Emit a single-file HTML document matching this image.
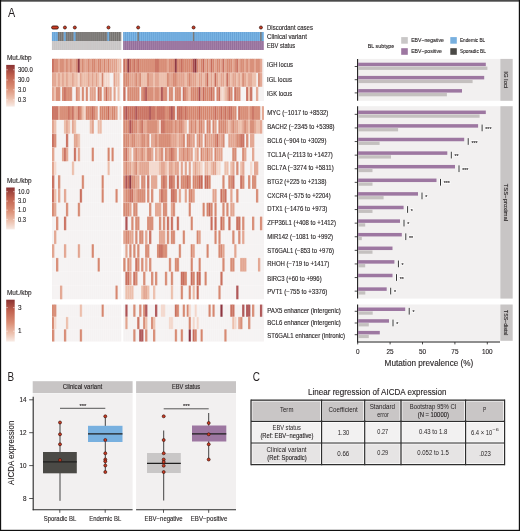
<!DOCTYPE html>
<html><head><meta charset="utf-8"><style>
html,body{margin:0;padding:0;background:#fff;}
body{width:520px;height:531px;overflow:hidden;}
svg{display:block;font-family:"Liberation Sans", sans-serif;will-change:transform;}
text{stroke:#231f20;stroke-width:0.12px;}
text.n{stroke:none;}
</style></head><body>
<svg width="520" height="531" viewBox="0 0 520 531">
<defs><linearGradient id="lg" x1="0" y1="0" x2="0" y2="1">
<stop offset="0" stop-color="#8a3232"/><stop offset="0.25" stop-color="#bf5f4d"/><stop offset="0.55" stop-color="#da8d74"/><stop offset="0.8" stop-color="#ecc0ad"/><stop offset="1" stop-color="#f8ebe5"/>
</linearGradient></defs>
<rect x="0" y="0" width="520" height="531" fill="#fff"/>
<rect x="52.05" y="32" width="69.3" height="9" fill="#93918f"/><rect x="123.3" y="32" width="140.58" height="9" fill="#7db6e5"/><rect x="52.05" y="41" width="69.3" height="9" fill="#d0cdcd"/><rect x="123.3" y="41" width="140.58" height="9" fill="#a683aa"/><rect x="52.05" y="32" width="1.98" height="9" fill="#7db6e5"/><rect x="54.03" y="32" width="1.98" height="9" fill="#7db6e5"/><rect x="56.01" y="32" width="1.98" height="9" fill="#7db6e5"/><rect x="63.93" y="32" width="1.98" height="9" fill="#7db6e5"/><rect x="73.83" y="32" width="1.98" height="9" fill="#7db6e5"/><rect x="107.49" y="32" width="1.98" height="9" fill="#7db6e5"/><rect x="137.36" y="32" width="1.58" height="9" fill="#7c7a77"/><rect x="192.8" y="32" width="1.58" height="9" fill="#7c7a77"/><rect x="260.12" y="32" width="1.58" height="9" fill="#7c7a77"/><path d="M58.29 32V41 M60.27 32V41 M62.25 32V41 M66.21 32V41 M68.19 32V41 M70.17 32V41 M72.15 32V41 M76.11 32V41 M78.09 32V41 M80.07 32V41 M82.05 32V41 M84.03 32V41 M86.01 32V41 M87.99 32V41 M89.97 32V41 M91.95 32V41 M93.93 32V41 M95.91 32V41 M97.89 32V41 M99.87 32V41 M101.85 32V41 M103.83 32V41 M105.81 32V41 M109.77 32V41 M111.75 32V41 M113.73 32V41 M115.71 32V41 M117.69 32V41 M119.67 32V41" stroke="#55534f" stroke-width="0.6"/><path d="M52.35 41V50 M54.33 41V50 M56.31 41V50 M58.29 41V50 M60.27 41V50 M62.25 41V50 M64.23 41V50 M66.21 41V50 M68.19 41V50 M70.17 41V50 M72.15 41V50 M74.13 41V50 M76.11 41V50 M78.09 41V50 M80.07 41V50 M82.05 41V50 M84.03 41V50 M86.01 41V50 M87.99 41V50 M89.97 41V50 M91.95 41V50 M93.93 41V50 M95.91 41V50 M97.89 41V50 M99.87 41V50 M101.85 41V50 M103.83 41V50 M105.81 41V50 M107.79 41V50 M109.77 41V50 M111.75 41V50 M113.73 41V50 M115.71 41V50 M117.69 41V50 M119.67 41V50" stroke="#bdbaba" stroke-width="0.5"/><path d="M123.6 32V41 M125.58 32V41 M127.56 32V41 M129.54 32V41 M131.52 32V41 M133.5 32V41 M135.48 32V41 M139.44 32V41 M141.42 32V41 M143.4 32V41 M145.38 32V41 M147.36 32V41 M149.34 32V41 M151.32 32V41 M153.3 32V41 M155.28 32V41 M157.26 32V41 M159.24 32V41 M161.22 32V41 M163.2 32V41 M165.18 32V41 M167.16 32V41 M169.14 32V41 M171.12 32V41 M173.1 32V41 M175.08 32V41 M177.06 32V41 M179.04 32V41 M181.02 32V41 M183 32V41 M184.98 32V41 M186.96 32V41 M188.94 32V41 M190.92 32V41 M194.88 32V41 M196.86 32V41 M198.84 32V41 M200.82 32V41 M202.8 32V41 M204.78 32V41 M206.76 32V41 M208.74 32V41 M210.72 32V41 M212.7 32V41 M214.68 32V41 M216.66 32V41 M218.64 32V41 M220.62 32V41 M222.6 32V41 M224.58 32V41 M226.56 32V41 M228.54 32V41 M230.52 32V41 M232.5 32V41 M234.48 32V41 M236.46 32V41 M238.44 32V41 M240.42 32V41 M242.4 32V41 M244.38 32V41 M246.36 32V41 M248.34 32V41 M250.32 32V41 M252.3 32V41 M254.28 32V41 M256.26 32V41 M258.24 32V41 M262.2 32V41 M52.35 32V41 M54.33 32V41 M56.31 32V41 M64.23 32V41 M74.13 32V41 M107.79 32V41" stroke="#5b97cc" stroke-width="0.6"/><path d="M123.6 41V50 M125.58 41V50 M127.56 41V50 M129.54 41V50 M131.52 41V50 M133.5 41V50 M135.48 41V50 M137.46 41V50 M139.44 41V50 M141.42 41V50 M143.4 41V50 M145.38 41V50 M147.36 41V50 M149.34 41V50 M151.32 41V50 M153.3 41V50 M155.28 41V50 M157.26 41V50 M159.24 41V50 M161.22 41V50 M163.2 41V50 M165.18 41V50 M167.16 41V50 M169.14 41V50 M171.12 41V50 M173.1 41V50 M175.08 41V50 M177.06 41V50 M179.04 41V50 M181.02 41V50 M183 41V50 M184.98 41V50 M186.96 41V50 M188.94 41V50 M190.92 41V50 M192.9 41V50 M194.88 41V50 M196.86 41V50 M198.84 41V50 M200.82 41V50 M202.8 41V50 M204.78 41V50 M206.76 41V50 M208.74 41V50 M210.72 41V50 M212.7 41V50 M214.68 41V50 M216.66 41V50 M218.64 41V50 M220.62 41V50 M222.6 41V50 M224.58 41V50 M226.56 41V50 M228.54 41V50 M230.52 41V50 M232.5 41V50 M234.48 41V50 M236.46 41V50 M238.44 41V50 M240.42 41V50 M242.4 41V50 M244.38 41V50 M246.36 41V50 M248.34 41V50 M250.32 41V50 M252.3 41V50 M254.28 41V50 M256.26 41V50 M258.24 41V50 M260.22 41V50 M262.2 41V50" stroke="#886190" stroke-width="0.6"/><circle cx="64.92" cy="27.5" r="1.5" fill="#cf3b22" stroke="#3f1710" stroke-width="0.8"/><circle cx="74.82" cy="27.5" r="1.5" fill="#cf3b22" stroke="#3f1710" stroke-width="0.8"/><circle cx="108.48" cy="27.5" r="1.5" fill="#cf3b22" stroke="#3f1710" stroke-width="0.8"/><circle cx="138.15" cy="27.5" r="1.5" fill="#cf3b22" stroke="#3f1710" stroke-width="0.8"/><circle cx="193.59" cy="27.5" r="1.5" fill="#cf3b22" stroke="#3f1710" stroke-width="0.8"/><circle cx="260.91" cy="27.5" r="1.5" fill="#cf3b22" stroke="#3f1710" stroke-width="0.8"/><rect x="51.6" y="26.0" width="6.79" height="3.0" rx="1.5" fill="#cf3b22" stroke="#3f1710" stroke-width="0.9"/><rect x="52.05" y="58.8" width="69.3" height="42.15" fill="#f5f2f2"/><rect x="123.3" y="58.8" width="140.58" height="42.15" fill="#f5f2f2"/><rect x="52.05" y="58.8" width="2.33" height="14.05" fill="#c76a58"/><rect x="54.03" y="58.8" width="2.33" height="14.05" fill="#d5856d"/><rect x="56.01" y="58.8" width="2.33" height="14.05" fill="#d5856d"/><rect x="57.99" y="58.8" width="2.33" height="14.05" fill="#e1a08a"/><rect x="59.97" y="58.8" width="2.33" height="14.05" fill="#d5856d"/><rect x="61.95" y="58.8" width="2.33" height="14.05" fill="#d5856d"/><rect x="63.93" y="58.8" width="2.33" height="14.05" fill="#e1a08a"/><rect x="65.91" y="58.8" width="2.33" height="14.05" fill="#d5856d"/><rect x="67.89" y="58.8" width="2.33" height="14.05" fill="#e1a08a"/><rect x="69.87" y="58.8" width="2.33" height="14.05" fill="#d5856d"/><rect x="71.85" y="58.8" width="2.33" height="14.05" fill="#e1a08a"/><rect x="73.83" y="58.8" width="2.33" height="14.05" fill="#e1a08a"/><rect x="75.81" y="58.8" width="2.33" height="14.05" fill="#d5856d"/><rect x="77.79" y="58.8" width="2.33" height="14.05" fill="#8a2f3a"/><rect x="79.77" y="58.8" width="2.33" height="14.05" fill="#e1a08a"/><rect x="81.75" y="58.8" width="2.33" height="14.05" fill="#d5856d"/><rect x="83.73" y="58.8" width="2.33" height="14.05" fill="#e1a08a"/><rect x="85.71" y="58.8" width="2.33" height="14.05" fill="#e1a08a"/><rect x="87.69" y="58.8" width="2.33" height="14.05" fill="#d5856d"/><rect x="89.67" y="58.8" width="2.33" height="14.05" fill="#e1a08a"/><rect x="91.65" y="58.8" width="2.33" height="14.05" fill="#d5856d"/><rect x="93.63" y="58.8" width="2.33" height="14.05" fill="#d5856d"/><rect x="95.61" y="58.8" width="2.33" height="14.05" fill="#e1a08a"/><rect x="97.59" y="58.8" width="2.33" height="14.05" fill="#d5856d"/><rect x="99.57" y="58.8" width="2.33" height="14.05" fill="#d5856d"/><rect x="101.55" y="58.8" width="2.33" height="14.05" fill="#e1a08a"/><rect x="103.53" y="58.8" width="2.33" height="14.05" fill="#d5856d"/><rect x="105.51" y="58.8" width="2.33" height="14.05" fill="#e1a08a"/><rect x="107.49" y="58.8" width="2.33" height="14.05" fill="#d5856d"/><rect x="109.47" y="58.8" width="2.33" height="14.05" fill="#e1a08a"/><rect x="111.45" y="58.8" width="2.33" height="14.05" fill="#e1a08a"/><rect x="113.43" y="58.8" width="2.33" height="14.05" fill="#e1a08a"/><rect x="115.41" y="58.8" width="2.33" height="14.05" fill="#e1a08a"/><rect x="117.39" y="58.8" width="2.33" height="14.05" fill="#ebbba7"/><rect x="119.37" y="58.8" width="1.98" height="14.05" fill="#ebbba7"/><rect x="123.3" y="58.8" width="2.33" height="14.05" fill="#c76a58"/><rect x="125.28" y="58.8" width="2.33" height="14.05" fill="#d5856d"/><rect x="127.26" y="58.8" width="2.33" height="14.05" fill="#8a2f3a"/><rect x="129.24" y="58.8" width="2.33" height="14.05" fill="#c76a58"/><rect x="131.22" y="58.8" width="2.33" height="14.05" fill="#d5856d"/><rect x="133.2" y="58.8" width="2.33" height="14.05" fill="#c76a58"/><rect x="135.18" y="58.8" width="2.33" height="14.05" fill="#d5856d"/><rect x="137.16" y="58.8" width="2.33" height="14.05" fill="#c76a58"/><rect x="139.14" y="58.8" width="2.33" height="14.05" fill="#d5856d"/><rect x="141.12" y="58.8" width="2.33" height="14.05" fill="#d5856d"/><rect x="143.1" y="58.8" width="2.33" height="14.05" fill="#d5856d"/><rect x="145.08" y="58.8" width="2.33" height="14.05" fill="#d5856d"/><rect x="147.06" y="58.8" width="2.33" height="14.05" fill="#d5856d"/><rect x="149.04" y="58.8" width="2.33" height="14.05" fill="#d5856d"/><rect x="151.02" y="58.8" width="2.33" height="14.05" fill="#d5856d"/><rect x="153" y="58.8" width="2.33" height="14.05" fill="#d5856d"/><rect x="154.98" y="58.8" width="2.33" height="14.05" fill="#c76a58"/><rect x="156.96" y="58.8" width="2.33" height="14.05" fill="#c76a58"/><rect x="158.94" y="58.8" width="2.33" height="14.05" fill="#d5856d"/><rect x="160.92" y="58.8" width="2.33" height="14.05" fill="#d5856d"/><rect x="162.9" y="58.8" width="2.33" height="14.05" fill="#d5856d"/><rect x="164.88" y="58.8" width="2.33" height="14.05" fill="#d5856d"/><rect x="166.86" y="58.8" width="2.33" height="14.05" fill="#e1a08a"/><rect x="168.84" y="58.8" width="2.33" height="14.05" fill="#d5856d"/><rect x="170.82" y="58.8" width="2.33" height="14.05" fill="#d5856d"/><rect x="172.8" y="58.8" width="2.33" height="14.05" fill="#d5856d"/><rect x="174.78" y="58.8" width="2.33" height="14.05" fill="#8a2f3a"/><rect x="176.76" y="58.8" width="2.33" height="14.05" fill="#d5856d"/><rect x="178.74" y="58.8" width="2.33" height="14.05" fill="#d5856d"/><rect x="180.72" y="58.8" width="2.33" height="14.05" fill="#c76a58"/><rect x="182.7" y="58.8" width="2.33" height="14.05" fill="#d5856d"/><rect x="184.68" y="58.8" width="2.33" height="14.05" fill="#d5856d"/><rect x="186.66" y="58.8" width="2.33" height="14.05" fill="#d5856d"/><rect x="188.64" y="58.8" width="2.33" height="14.05" fill="#d5856d"/><rect x="190.62" y="58.8" width="2.33" height="14.05" fill="#d5856d"/><rect x="192.6" y="58.8" width="2.33" height="14.05" fill="#aa4c4d"/><rect x="194.58" y="58.8" width="2.33" height="14.05" fill="#8a2f3a"/><rect x="196.56" y="58.8" width="2.33" height="14.05" fill="#d5856d"/><rect x="198.54" y="58.8" width="2.33" height="14.05" fill="#e1a08a"/><rect x="200.52" y="58.8" width="2.33" height="14.05" fill="#d5856d"/><rect x="202.5" y="58.8" width="2.33" height="14.05" fill="#c76a58"/><rect x="204.48" y="58.8" width="2.33" height="14.05" fill="#e1a08a"/><rect x="206.46" y="58.8" width="2.33" height="14.05" fill="#d5856d"/><rect x="208.44" y="58.8" width="2.33" height="14.05" fill="#e1a08a"/><rect x="210.42" y="58.8" width="2.33" height="14.05" fill="#c76a58"/><rect x="212.4" y="58.8" width="2.33" height="14.05" fill="#d5856d"/><rect x="214.38" y="58.8" width="2.33" height="14.05" fill="#e1a08a"/><rect x="216.36" y="58.8" width="2.33" height="14.05" fill="#d5856d"/><rect x="218.34" y="58.8" width="2.33" height="14.05" fill="#d5856d"/><rect x="220.32" y="58.8" width="2.33" height="14.05" fill="#e1a08a"/><rect x="222.3" y="58.8" width="2.33" height="14.05" fill="#c76a58"/><rect x="224.28" y="58.8" width="2.33" height="14.05" fill="#e1a08a"/><rect x="226.26" y="58.8" width="2.33" height="14.05" fill="#d5856d"/><rect x="228.24" y="58.8" width="2.33" height="14.05" fill="#d5856d"/><rect x="230.22" y="58.8" width="2.33" height="14.05" fill="#d5856d"/><rect x="232.2" y="58.8" width="2.33" height="14.05" fill="#e1a08a"/><rect x="234.18" y="58.8" width="2.33" height="14.05" fill="#d5856d"/><rect x="236.16" y="58.8" width="2.33" height="14.05" fill="#c76a58"/><rect x="238.14" y="58.8" width="2.33" height="14.05" fill="#e1a08a"/><rect x="240.12" y="58.8" width="2.33" height="14.05" fill="#d5856d"/><rect x="242.1" y="58.8" width="2.33" height="14.05" fill="#d5856d"/><rect x="244.08" y="58.8" width="2.33" height="14.05" fill="#e1a08a"/><rect x="246.06" y="58.8" width="2.33" height="14.05" fill="#d5856d"/><rect x="248.04" y="58.8" width="2.33" height="14.05" fill="#e1a08a"/><rect x="250.02" y="58.8" width="2.33" height="14.05" fill="#d5856d"/><rect x="252" y="58.8" width="2.33" height="14.05" fill="#d5856d"/><rect x="253.98" y="58.8" width="2.33" height="14.05" fill="#e1a08a"/><rect x="255.96" y="58.8" width="2.33" height="14.05" fill="#d5856d"/><rect x="257.94" y="58.8" width="2.33" height="14.05" fill="#d5856d"/><rect x="259.92" y="58.8" width="2.33" height="14.05" fill="#e1a08a"/><text x="267" y="67.4" font-size="6.3" fill="#231f20" textLength="25.9" lengthAdjust="spacingAndGlyphs">IGH locus</text><rect x="52.05" y="72.85" width="2.33" height="14.05" fill="#e1a08a"/><rect x="54.03" y="72.85" width="2.33" height="14.05" fill="#e1a08a"/><rect x="56.01" y="72.85" width="2.33" height="14.05" fill="#ebbba7"/><rect x="57.99" y="72.85" width="2.33" height="14.05" fill="#e1a08a"/><rect x="59.97" y="72.85" width="2.33" height="14.05" fill="#ebbba7"/><rect x="61.95" y="72.85" width="2.33" height="14.05" fill="#e1a08a"/><rect x="63.93" y="72.85" width="2.33" height="14.05" fill="#ebbba7"/><rect x="65.91" y="72.85" width="2.33" height="14.05" fill="#e1a08a"/><rect x="67.89" y="72.85" width="2.33" height="14.05" fill="#ebbba7"/><rect x="69.87" y="72.85" width="2.33" height="14.05" fill="#ebbba7"/><rect x="71.85" y="72.85" width="2.33" height="14.05" fill="#e1a08a"/><rect x="73.83" y="72.85" width="2.33" height="14.05" fill="#ebbba7"/><rect x="75.81" y="72.85" width="2.33" height="14.05" fill="#ebbba7"/><rect x="77.79" y="72.85" width="2.33" height="14.05" fill="#f3d6ca"/><rect x="79.77" y="72.85" width="2.33" height="14.05" fill="#e1a08a"/><rect x="81.75" y="72.85" width="2.33" height="14.05" fill="#ebbba7"/><rect x="83.73" y="72.85" width="2.33" height="14.05" fill="#ebbba7"/><rect x="85.71" y="72.85" width="2.33" height="14.05" fill="#ebbba7"/><rect x="87.69" y="72.85" width="2.33" height="14.05" fill="#e1a08a"/><rect x="89.67" y="72.85" width="2.33" height="14.05" fill="#ebbba7"/><rect x="91.65" y="72.85" width="2.33" height="14.05" fill="#e1a08a"/><rect x="93.63" y="72.85" width="2.33" height="14.05" fill="#ebbba7"/><rect x="95.61" y="72.85" width="2.33" height="14.05" fill="#e1a08a"/><rect x="97.59" y="72.85" width="2.33" height="14.05" fill="#ebbba7"/><rect x="99.57" y="72.85" width="2.33" height="14.05" fill="#f3d6ca"/><rect x="101.55" y="72.85" width="2.33" height="14.05" fill="#d5856d"/><rect x="103.53" y="72.85" width="2.33" height="14.05" fill="#f3d6ca"/><rect x="105.51" y="72.85" width="2.33" height="14.05" fill="#f3d6ca"/><rect x="107.49" y="72.85" width="2.33" height="14.05" fill="#f3d6ca"/><rect x="113.43" y="72.85" width="2.33" height="14.05" fill="#e1a08a"/><rect x="115.41" y="72.85" width="2.33" height="14.05" fill="#ebbba7"/><rect x="117.39" y="72.85" width="2.33" height="14.05" fill="#ebbba7"/><rect x="123.3" y="72.85" width="2.33" height="14.05" fill="#d5856d"/><rect x="125.28" y="72.85" width="2.33" height="14.05" fill="#d5856d"/><rect x="127.26" y="72.85" width="2.33" height="14.05" fill="#d5856d"/><rect x="129.24" y="72.85" width="2.33" height="14.05" fill="#e1a08a"/><rect x="131.22" y="72.85" width="2.33" height="14.05" fill="#e1a08a"/><rect x="133.2" y="72.85" width="2.33" height="14.05" fill="#e1a08a"/><rect x="135.18" y="72.85" width="2.33" height="14.05" fill="#d5856d"/><rect x="137.16" y="72.85" width="2.33" height="14.05" fill="#e1a08a"/><rect x="139.14" y="72.85" width="2.33" height="14.05" fill="#d5856d"/><rect x="141.12" y="72.85" width="2.33" height="14.05" fill="#ebbba7"/><rect x="143.1" y="72.85" width="2.33" height="14.05" fill="#ebbba7"/><rect x="145.08" y="72.85" width="2.33" height="14.05" fill="#ebbba7"/><rect x="147.06" y="72.85" width="2.33" height="14.05" fill="#d5856d"/><rect x="149.04" y="72.85" width="2.33" height="14.05" fill="#e1a08a"/><rect x="151.02" y="72.85" width="2.33" height="14.05" fill="#e1a08a"/><rect x="153" y="72.85" width="2.33" height="14.05" fill="#ebbba7"/><rect x="154.98" y="72.85" width="2.33" height="14.05" fill="#e1a08a"/><rect x="156.96" y="72.85" width="2.33" height="14.05" fill="#e1a08a"/><rect x="158.94" y="72.85" width="2.33" height="14.05" fill="#ebbba7"/><rect x="160.92" y="72.85" width="2.33" height="14.05" fill="#ebbba7"/><rect x="162.9" y="72.85" width="2.33" height="14.05" fill="#ebbba7"/><rect x="164.88" y="72.85" width="2.33" height="14.05" fill="#ebbba7"/><rect x="166.86" y="72.85" width="2.33" height="14.05" fill="#d5856d"/><rect x="168.84" y="72.85" width="2.33" height="14.05" fill="#e1a08a"/><rect x="170.82" y="72.85" width="2.33" height="14.05" fill="#e1a08a"/><rect x="172.8" y="72.85" width="2.33" height="14.05" fill="#d5856d"/><rect x="174.78" y="72.85" width="2.33" height="14.05" fill="#d5856d"/><rect x="176.76" y="72.85" width="2.33" height="14.05" fill="#e1a08a"/><rect x="178.74" y="72.85" width="2.33" height="14.05" fill="#e1a08a"/><rect x="180.72" y="72.85" width="2.33" height="14.05" fill="#e1a08a"/><rect x="182.7" y="72.85" width="2.33" height="14.05" fill="#e1a08a"/><rect x="184.68" y="72.85" width="2.33" height="14.05" fill="#ebbba7"/><rect x="186.66" y="72.85" width="2.33" height="14.05" fill="#e1a08a"/><rect x="188.64" y="72.85" width="2.33" height="14.05" fill="#d5856d"/><rect x="190.62" y="72.85" width="2.33" height="14.05" fill="#e1a08a"/><rect x="192.6" y="72.85" width="2.33" height="14.05" fill="#e1a08a"/><rect x="194.58" y="72.85" width="2.33" height="14.05" fill="#e1a08a"/><rect x="196.56" y="72.85" width="2.33" height="14.05" fill="#ebbba7"/><rect x="198.54" y="72.85" width="2.33" height="14.05" fill="#e1a08a"/><rect x="200.52" y="72.85" width="2.33" height="14.05" fill="#e1a08a"/><rect x="202.5" y="72.85" width="2.33" height="14.05" fill="#ebbba7"/><rect x="204.48" y="72.85" width="2.33" height="14.05" fill="#e1a08a"/><rect x="206.46" y="72.85" width="2.33" height="14.05" fill="#c76a58"/><rect x="208.44" y="72.85" width="2.33" height="14.05" fill="#ebbba7"/><rect x="210.42" y="72.85" width="2.33" height="14.05" fill="#e1a08a"/><rect x="212.4" y="72.85" width="2.33" height="14.05" fill="#ebbba7"/><rect x="214.38" y="72.85" width="2.33" height="14.05" fill="#c76a58"/><rect x="216.36" y="72.85" width="2.33" height="14.05" fill="#e1a08a"/><rect x="218.34" y="72.85" width="2.33" height="14.05" fill="#ebbba7"/><rect x="220.32" y="72.85" width="2.33" height="14.05" fill="#e1a08a"/><rect x="222.3" y="72.85" width="2.33" height="14.05" fill="#e1a08a"/><rect x="224.28" y="72.85" width="2.33" height="14.05" fill="#ebbba7"/><rect x="226.26" y="72.85" width="2.33" height="14.05" fill="#c76a58"/><rect x="228.24" y="72.85" width="2.33" height="14.05" fill="#e1a08a"/><rect x="230.22" y="72.85" width="2.33" height="14.05" fill="#ebbba7"/><rect x="232.2" y="72.85" width="2.33" height="14.05" fill="#e1a08a"/><rect x="234.18" y="72.85" width="2.33" height="14.05" fill="#e1a08a"/><rect x="236.16" y="72.85" width="2.33" height="14.05" fill="#ebbba7"/><rect x="238.14" y="72.85" width="2.33" height="14.05" fill="#e1a08a"/><rect x="240.12" y="72.85" width="2.33" height="14.05" fill="#ebbba7"/><rect x="242.1" y="72.85" width="2.33" height="14.05" fill="#d5856d"/><rect x="244.08" y="72.85" width="2.33" height="14.05" fill="#e1a08a"/><rect x="246.06" y="72.85" width="2.33" height="14.05" fill="#ebbba7"/><rect x="248.04" y="72.85" width="2.33" height="14.05" fill="#e1a08a"/><rect x="250.02" y="72.85" width="2.33" height="14.05" fill="#e1a08a"/><rect x="252" y="72.85" width="2.33" height="14.05" fill="#ebbba7"/><rect x="253.98" y="72.85" width="2.33" height="14.05" fill="#ebbba7"/><rect x="257.94" y="72.85" width="2.33" height="14.05" fill="#d5856d"/><rect x="259.92" y="72.85" width="2.33" height="14.05" fill="#e1a08a"/><text x="267" y="81.7" font-size="6.3" fill="#231f20" textLength="24.9" lengthAdjust="spacingAndGlyphs">IGL locus</text><rect x="52.05" y="86.9" width="2.33" height="14.05" fill="#e1a08a"/><rect x="54.03" y="86.9" width="2.33" height="14.05" fill="#ebbba7"/><rect x="56.01" y="86.9" width="2.33" height="14.05" fill="#d5856d"/><rect x="57.99" y="86.9" width="2.33" height="14.05" fill="#d5856d"/><rect x="61.95" y="86.9" width="2.33" height="14.05" fill="#d5856d"/><rect x="63.93" y="86.9" width="2.33" height="14.05" fill="#c76a58"/><rect x="65.91" y="86.9" width="2.33" height="14.05" fill="#d5856d"/><rect x="67.89" y="86.9" width="2.33" height="14.05" fill="#d5856d"/><rect x="69.87" y="86.9" width="2.33" height="14.05" fill="#d5856d"/><rect x="75.81" y="86.9" width="2.33" height="14.05" fill="#d5856d"/><rect x="77.79" y="86.9" width="2.33" height="14.05" fill="#e1a08a"/><rect x="81.75" y="86.9" width="2.33" height="14.05" fill="#d5856d"/><rect x="85.71" y="86.9" width="2.33" height="14.05" fill="#d5856d"/><rect x="89.67" y="86.9" width="2.33" height="14.05" fill="#e1a08a"/><rect x="91.65" y="86.9" width="2.33" height="14.05" fill="#e1a08a"/><rect x="93.63" y="86.9" width="2.33" height="14.05" fill="#e1a08a"/><rect x="97.59" y="86.9" width="2.33" height="14.05" fill="#c76a58"/><rect x="99.57" y="86.9" width="2.33" height="14.05" fill="#d5856d"/><rect x="103.53" y="86.9" width="2.33" height="14.05" fill="#e1a08a"/><rect x="105.51" y="86.9" width="2.33" height="14.05" fill="#c76a58"/><rect x="107.49" y="86.9" width="2.33" height="14.05" fill="#e1a08a"/><rect x="109.47" y="86.9" width="2.33" height="14.05" fill="#e1a08a"/><rect x="113.43" y="86.9" width="2.33" height="14.05" fill="#e1a08a"/><rect x="117.39" y="86.9" width="2.33" height="14.05" fill="#ebbba7"/><rect x="123.3" y="86.9" width="2.33" height="14.05" fill="#c76a58"/><rect x="127.26" y="86.9" width="2.33" height="14.05" fill="#d5856d"/><rect x="129.24" y="86.9" width="2.33" height="14.05" fill="#d5856d"/><rect x="131.22" y="86.9" width="2.33" height="14.05" fill="#d5856d"/><rect x="133.2" y="86.9" width="2.33" height="14.05" fill="#d5856d"/><rect x="135.18" y="86.9" width="2.33" height="14.05" fill="#d5856d"/><rect x="137.16" y="86.9" width="2.33" height="14.05" fill="#d5856d"/><rect x="141.12" y="86.9" width="2.33" height="14.05" fill="#d5856d"/><rect x="143.1" y="86.9" width="2.33" height="14.05" fill="#c76a58"/><rect x="145.08" y="86.9" width="2.33" height="14.05" fill="#aa4c4d"/><rect x="147.06" y="86.9" width="2.33" height="14.05" fill="#d5856d"/><rect x="149.04" y="86.9" width="2.33" height="14.05" fill="#d5856d"/><rect x="151.02" y="86.9" width="2.33" height="14.05" fill="#d5856d"/><rect x="153" y="86.9" width="2.33" height="14.05" fill="#e1a08a"/><rect x="154.98" y="86.9" width="2.33" height="14.05" fill="#d5856d"/><rect x="156.96" y="86.9" width="2.33" height="14.05" fill="#d5856d"/><rect x="158.94" y="86.9" width="2.33" height="14.05" fill="#e1a08a"/><rect x="160.92" y="86.9" width="2.33" height="14.05" fill="#aa4c4d"/><rect x="162.9" y="86.9" width="2.33" height="14.05" fill="#d5856d"/><rect x="164.88" y="86.9" width="2.33" height="14.05" fill="#d5856d"/><rect x="168.84" y="86.9" width="2.33" height="14.05" fill="#d5856d"/><rect x="170.82" y="86.9" width="2.33" height="14.05" fill="#d5856d"/><rect x="174.78" y="86.9" width="2.33" height="14.05" fill="#d5856d"/><rect x="176.76" y="86.9" width="2.33" height="14.05" fill="#d5856d"/><rect x="178.74" y="86.9" width="2.33" height="14.05" fill="#d5856d"/><rect x="182.7" y="86.9" width="2.33" height="14.05" fill="#c76a58"/><rect x="184.68" y="86.9" width="2.33" height="14.05" fill="#d5856d"/><rect x="186.66" y="86.9" width="2.33" height="14.05" fill="#e1a08a"/><rect x="188.64" y="86.9" width="2.33" height="14.05" fill="#ebbba7"/><rect x="190.62" y="86.9" width="2.33" height="14.05" fill="#d5856d"/><rect x="192.6" y="86.9" width="2.33" height="14.05" fill="#d5856d"/><rect x="194.58" y="86.9" width="2.33" height="14.05" fill="#d5856d"/><rect x="196.56" y="86.9" width="2.33" height="14.05" fill="#d5856d"/><rect x="198.54" y="86.9" width="2.33" height="14.05" fill="#aa4c4d"/><rect x="200.52" y="86.9" width="2.33" height="14.05" fill="#e1a08a"/><rect x="202.5" y="86.9" width="2.33" height="14.05" fill="#c76a58"/><rect x="204.48" y="86.9" width="2.33" height="14.05" fill="#d5856d"/><rect x="206.46" y="86.9" width="2.33" height="14.05" fill="#d5856d"/><rect x="208.44" y="86.9" width="2.33" height="14.05" fill="#d5856d"/><rect x="210.42" y="86.9" width="2.33" height="14.05" fill="#c76a58"/><rect x="212.4" y="86.9" width="2.33" height="14.05" fill="#d5856d"/><rect x="216.36" y="86.9" width="2.33" height="14.05" fill="#d5856d"/><rect x="218.34" y="86.9" width="2.33" height="14.05" fill="#c76a58"/><rect x="220.32" y="86.9" width="2.33" height="14.05" fill="#f3d6ca"/><rect x="222.3" y="86.9" width="2.33" height="14.05" fill="#f3d6ca"/><rect x="224.28" y="86.9" width="2.33" height="14.05" fill="#ebbba7"/><rect x="226.26" y="86.9" width="2.33" height="14.05" fill="#e1a08a"/><rect x="228.24" y="86.9" width="2.33" height="14.05" fill="#c76a58"/><rect x="230.22" y="86.9" width="2.33" height="14.05" fill="#d5856d"/><rect x="234.18" y="86.9" width="2.33" height="14.05" fill="#c76a58"/><rect x="236.16" y="86.9" width="2.33" height="14.05" fill="#d5856d"/><rect x="238.14" y="86.9" width="2.33" height="14.05" fill="#d5856d"/><rect x="246.06" y="86.9" width="2.33" height="14.05" fill="#c76a58"/><rect x="248.04" y="86.9" width="2.33" height="14.05" fill="#ebbba7"/><rect x="250.02" y="86.9" width="2.33" height="14.05" fill="#c76a58"/><rect x="255.96" y="86.9" width="2.33" height="14.05" fill="#e1a08a"/><text x="267" y="95.8" font-size="6.3" fill="#231f20" textLength="25.2" lengthAdjust="spacingAndGlyphs">IGK locus</text><path d="M54.03 58.8V100.95 M56.01 58.8V100.95 M57.99 58.8V100.95 M59.97 58.8V100.95 M61.95 58.8V100.95 M63.93 58.8V100.95 M65.91 58.8V100.95 M67.89 58.8V100.95 M69.87 58.8V100.95 M71.85 58.8V100.95 M73.83 58.8V100.95 M75.81 58.8V100.95 M77.79 58.8V100.95 M79.77 58.8V100.95 M81.75 58.8V100.95 M83.73 58.8V100.95 M85.71 58.8V100.95 M87.69 58.8V100.95 M89.67 58.8V100.95 M91.65 58.8V100.95 M93.63 58.8V100.95 M95.61 58.8V100.95 M97.59 58.8V100.95 M99.57 58.8V100.95 M101.55 58.8V100.95 M103.53 58.8V100.95 M105.51 58.8V100.95 M107.49 58.8V100.95 M109.47 58.8V100.95 M111.45 58.8V100.95 M113.43 58.8V100.95 M115.41 58.8V100.95 M117.39 58.8V100.95 M119.37 58.8V100.95 M125.28 58.8V100.95 M127.26 58.8V100.95 M129.24 58.8V100.95 M131.22 58.8V100.95 M133.2 58.8V100.95 M135.18 58.8V100.95 M137.16 58.8V100.95 M139.14 58.8V100.95 M141.12 58.8V100.95 M143.1 58.8V100.95 M145.08 58.8V100.95 M147.06 58.8V100.95 M149.04 58.8V100.95 M151.02 58.8V100.95 M153 58.8V100.95 M154.98 58.8V100.95 M156.96 58.8V100.95 M158.94 58.8V100.95 M160.92 58.8V100.95 M162.9 58.8V100.95 M164.88 58.8V100.95 M166.86 58.8V100.95 M168.84 58.8V100.95 M170.82 58.8V100.95 M172.8 58.8V100.95 M174.78 58.8V100.95 M176.76 58.8V100.95 M178.74 58.8V100.95 M180.72 58.8V100.95 M182.7 58.8V100.95 M184.68 58.8V100.95 M186.66 58.8V100.95 M188.64 58.8V100.95 M190.62 58.8V100.95 M192.6 58.8V100.95 M194.58 58.8V100.95 M196.56 58.8V100.95 M198.54 58.8V100.95 M200.52 58.8V100.95 M202.5 58.8V100.95 M204.48 58.8V100.95 M206.46 58.8V100.95 M208.44 58.8V100.95 M210.42 58.8V100.95 M212.4 58.8V100.95 M214.38 58.8V100.95 M216.36 58.8V100.95 M218.34 58.8V100.95 M220.32 58.8V100.95 M222.3 58.8V100.95 M224.28 58.8V100.95 M226.26 58.8V100.95 M228.24 58.8V100.95 M230.22 58.8V100.95 M232.2 58.8V100.95 M234.18 58.8V100.95 M236.16 58.8V100.95 M238.14 58.8V100.95 M240.12 58.8V100.95 M242.1 58.8V100.95 M244.08 58.8V100.95 M246.06 58.8V100.95 M248.04 58.8V100.95 M250.02 58.8V100.95 M252 58.8V100.95 M253.98 58.8V100.95 M255.96 58.8V100.95 M257.94 58.8V100.95 M259.92 58.8V100.95 M261.9 58.8V100.95" stroke="#ffffff" stroke-opacity="0.32" stroke-width="0.6"/><rect x="52.05" y="72.5" width="69.3" height="0.7" fill="#ffffff" fill-opacity="0.3"/><rect x="123.3" y="72.5" width="140.58" height="0.7" fill="#ffffff" fill-opacity="0.3"/><rect x="52.05" y="86.55" width="69.3" height="0.7" fill="#ffffff" fill-opacity="0.3"/><rect x="123.3" y="86.55" width="140.58" height="0.7" fill="#ffffff" fill-opacity="0.3"/><rect x="52.05" y="106.2" width="69.3" height="193.06" fill="#f5f2f2"/><rect x="123.3" y="106.2" width="140.58" height="193.06" fill="#f5f2f2"/><rect x="52.05" y="106.2" width="2.33" height="13.79" fill="#c76a58"/><rect x="54.03" y="106.2" width="2.33" height="13.79" fill="#c76a58"/><rect x="56.01" y="106.2" width="2.33" height="13.79" fill="#c76a58"/><rect x="57.99" y="106.2" width="2.33" height="13.79" fill="#e1a08a"/><rect x="59.97" y="106.2" width="2.33" height="13.79" fill="#d5856d"/><rect x="61.95" y="106.2" width="2.33" height="13.79" fill="#d5856d"/><rect x="63.93" y="106.2" width="2.33" height="13.79" fill="#d5856d"/><rect x="65.91" y="106.2" width="2.33" height="13.79" fill="#d5856d"/><rect x="67.89" y="106.2" width="2.33" height="13.79" fill="#c76a58"/><rect x="69.87" y="106.2" width="2.33" height="13.79" fill="#d5856d"/><rect x="71.85" y="106.2" width="2.33" height="13.79" fill="#c76a58"/><rect x="73.83" y="106.2" width="2.33" height="13.79" fill="#e1a08a"/><rect x="75.81" y="106.2" width="2.33" height="13.79" fill="#e1a08a"/><rect x="77.79" y="106.2" width="2.33" height="13.79" fill="#c76a58"/><rect x="79.77" y="106.2" width="2.33" height="13.79" fill="#d5856d"/><rect x="81.75" y="106.2" width="2.33" height="13.79" fill="#ebbba7"/><rect x="83.73" y="106.2" width="2.33" height="13.79" fill="#f3d6ca"/><rect x="85.71" y="106.2" width="2.33" height="13.79" fill="#d5856d"/><rect x="87.69" y="106.2" width="2.33" height="13.79" fill="#d5856d"/><rect x="89.67" y="106.2" width="2.33" height="13.79" fill="#d5856d"/><rect x="91.65" y="106.2" width="2.33" height="13.79" fill="#c76a58"/><rect x="93.63" y="106.2" width="2.33" height="13.79" fill="#d5856d"/><rect x="95.61" y="106.2" width="2.33" height="13.79" fill="#e1a08a"/><rect x="99.57" y="106.2" width="2.33" height="13.79" fill="#d5856d"/><rect x="101.55" y="106.2" width="2.33" height="13.79" fill="#d5856d"/><rect x="103.53" y="106.2" width="2.33" height="13.79" fill="#d5856d"/><rect x="105.51" y="106.2" width="2.33" height="13.79" fill="#d5856d"/><rect x="107.49" y="106.2" width="2.33" height="13.79" fill="#c76a58"/><rect x="109.47" y="106.2" width="2.33" height="13.79" fill="#e1a08a"/><rect x="111.45" y="106.2" width="2.33" height="13.79" fill="#d5856d"/><rect x="113.43" y="106.2" width="2.33" height="13.79" fill="#d5856d"/><rect x="115.41" y="106.2" width="2.33" height="13.79" fill="#e1a08a"/><rect x="119.37" y="106.2" width="1.98" height="13.79" fill="#f3d6ca"/><rect x="123.3" y="106.2" width="2.33" height="13.79" fill="#c76a58"/><rect x="125.28" y="106.2" width="2.33" height="13.79" fill="#aa4c4d"/><rect x="127.26" y="106.2" width="2.33" height="13.79" fill="#c76a58"/><rect x="129.24" y="106.2" width="2.33" height="13.79" fill="#c76a58"/><rect x="131.22" y="106.2" width="2.33" height="13.79" fill="#c76a58"/><rect x="133.2" y="106.2" width="2.33" height="13.79" fill="#c76a58"/><rect x="135.18" y="106.2" width="2.33" height="13.79" fill="#aa4c4d"/><rect x="137.16" y="106.2" width="2.33" height="13.79" fill="#c76a58"/><rect x="139.14" y="106.2" width="2.33" height="13.79" fill="#c76a58"/><rect x="141.12" y="106.2" width="2.33" height="13.79" fill="#c76a58"/><rect x="143.1" y="106.2" width="2.33" height="13.79" fill="#c76a58"/><rect x="145.08" y="106.2" width="2.33" height="13.79" fill="#c76a58"/><rect x="147.06" y="106.2" width="2.33" height="13.79" fill="#c76a58"/><rect x="149.04" y="106.2" width="2.33" height="13.79" fill="#aa4c4d"/><rect x="151.02" y="106.2" width="2.33" height="13.79" fill="#c76a58"/><rect x="153" y="106.2" width="2.33" height="13.79" fill="#c76a58"/><rect x="154.98" y="106.2" width="2.33" height="13.79" fill="#d5856d"/><rect x="156.96" y="106.2" width="2.33" height="13.79" fill="#c76a58"/><rect x="158.94" y="106.2" width="2.33" height="13.79" fill="#c76a58"/><rect x="160.92" y="106.2" width="2.33" height="13.79" fill="#c76a58"/><rect x="162.9" y="106.2" width="2.33" height="13.79" fill="#c76a58"/><rect x="164.88" y="106.2" width="2.33" height="13.79" fill="#d5856d"/><rect x="166.86" y="106.2" width="2.33" height="13.79" fill="#d5856d"/><rect x="168.84" y="106.2" width="2.33" height="13.79" fill="#c76a58"/><rect x="170.82" y="106.2" width="2.33" height="13.79" fill="#aa4c4d"/><rect x="172.8" y="106.2" width="2.33" height="13.79" fill="#c76a58"/><rect x="176.76" y="106.2" width="2.33" height="13.79" fill="#c76a58"/><rect x="178.74" y="106.2" width="2.33" height="13.79" fill="#c76a58"/><rect x="180.72" y="106.2" width="2.33" height="13.79" fill="#c76a58"/><rect x="182.7" y="106.2" width="2.33" height="13.79" fill="#d5856d"/><rect x="184.68" y="106.2" width="2.33" height="13.79" fill="#c76a58"/><rect x="186.66" y="106.2" width="2.33" height="13.79" fill="#d5856d"/><rect x="188.64" y="106.2" width="2.33" height="13.79" fill="#d5856d"/><rect x="190.62" y="106.2" width="2.33" height="13.79" fill="#d5856d"/><rect x="192.6" y="106.2" width="2.33" height="13.79" fill="#d5856d"/><rect x="194.58" y="106.2" width="2.33" height="13.79" fill="#d5856d"/><rect x="196.56" y="106.2" width="2.33" height="13.79" fill="#d5856d"/><rect x="198.54" y="106.2" width="2.33" height="13.79" fill="#c76a58"/><rect x="200.52" y="106.2" width="2.33" height="13.79" fill="#d5856d"/><rect x="202.5" y="106.2" width="2.33" height="13.79" fill="#d5856d"/><rect x="204.48" y="106.2" width="2.33" height="13.79" fill="#d5856d"/><rect x="206.46" y="106.2" width="2.33" height="13.79" fill="#d5856d"/><rect x="208.44" y="106.2" width="2.33" height="13.79" fill="#d5856d"/><rect x="210.42" y="106.2" width="2.33" height="13.79" fill="#d5856d"/><rect x="212.4" y="106.2" width="2.33" height="13.79" fill="#d5856d"/><rect x="214.38" y="106.2" width="2.33" height="13.79" fill="#c76a58"/><rect x="216.36" y="106.2" width="2.33" height="13.79" fill="#d5856d"/><rect x="218.34" y="106.2" width="2.33" height="13.79" fill="#d5856d"/><rect x="220.32" y="106.2" width="2.33" height="13.79" fill="#c76a58"/><rect x="222.3" y="106.2" width="2.33" height="13.79" fill="#d5856d"/><rect x="224.28" y="106.2" width="2.33" height="13.79" fill="#c76a58"/><rect x="226.26" y="106.2" width="2.33" height="13.79" fill="#d5856d"/><rect x="228.24" y="106.2" width="2.33" height="13.79" fill="#c76a58"/><rect x="230.22" y="106.2" width="2.33" height="13.79" fill="#c76a58"/><rect x="232.2" y="106.2" width="2.33" height="13.79" fill="#d5856d"/><rect x="234.18" y="106.2" width="2.33" height="13.79" fill="#d5856d"/><rect x="238.14" y="106.2" width="2.33" height="13.79" fill="#c76a58"/><rect x="240.12" y="106.2" width="2.33" height="13.79" fill="#d5856d"/><rect x="242.1" y="106.2" width="2.33" height="13.79" fill="#d5856d"/><rect x="244.08" y="106.2" width="2.33" height="13.79" fill="#d5856d"/><rect x="246.06" y="106.2" width="2.33" height="13.79" fill="#d5856d"/><rect x="248.04" y="106.2" width="2.33" height="13.79" fill="#e1a08a"/><rect x="250.02" y="106.2" width="2.33" height="13.79" fill="#d5856d"/><rect x="252" y="106.2" width="2.33" height="13.79" fill="#c76a58"/><rect x="253.98" y="106.2" width="2.33" height="13.79" fill="#d5856d"/><rect x="255.96" y="106.2" width="2.33" height="13.79" fill="#d5856d"/><rect x="257.94" y="106.2" width="2.33" height="13.79" fill="#d5856d"/><rect x="261.9" y="106.2" width="1.98" height="13.79" fill="#e1a08a"/><text x="267.3" y="114.9" font-size="6.3" fill="#231f20" textLength="61" lengthAdjust="spacingAndGlyphs">MYC (−1017 to +8532)</text><rect x="52.05" y="119.99" width="2.33" height="13.79" fill="#e1a08a"/><rect x="54.03" y="119.99" width="2.33" height="13.79" fill="#ebbba7"/><rect x="63.93" y="119.99" width="2.33" height="13.79" fill="#ebbba7"/><rect x="65.91" y="119.99" width="2.33" height="13.79" fill="#e1a08a"/><rect x="67.89" y="119.99" width="2.33" height="13.79" fill="#ebbba7"/><rect x="71.85" y="119.99" width="2.33" height="13.79" fill="#e1a08a"/><rect x="73.83" y="119.99" width="2.33" height="13.79" fill="#ebbba7"/><rect x="89.67" y="119.99" width="2.33" height="13.79" fill="#ebbba7"/><rect x="91.65" y="119.99" width="2.33" height="13.79" fill="#e1a08a"/><rect x="97.59" y="119.99" width="2.33" height="13.79" fill="#ebbba7"/><rect x="99.57" y="119.99" width="2.33" height="13.79" fill="#ebbba7"/><rect x="123.3" y="119.99" width="2.33" height="13.79" fill="#d5856d"/><rect x="125.28" y="119.99" width="2.33" height="13.79" fill="#d5856d"/><rect x="127.26" y="119.99" width="2.33" height="13.79" fill="#d5856d"/><rect x="129.24" y="119.99" width="2.33" height="13.79" fill="#aa4c4d"/><rect x="131.22" y="119.99" width="2.33" height="13.79" fill="#c76a58"/><rect x="133.2" y="119.99" width="2.33" height="13.79" fill="#d5856d"/><rect x="135.18" y="119.99" width="2.33" height="13.79" fill="#d5856d"/><rect x="137.16" y="119.99" width="2.33" height="13.79" fill="#e1a08a"/><rect x="139.14" y="119.99" width="2.33" height="13.79" fill="#d5856d"/><rect x="141.12" y="119.99" width="2.33" height="13.79" fill="#c76a58"/><rect x="143.1" y="119.99" width="2.33" height="13.79" fill="#e1a08a"/><rect x="145.08" y="119.99" width="2.33" height="13.79" fill="#e1a08a"/><rect x="147.06" y="119.99" width="2.33" height="13.79" fill="#d5856d"/><rect x="149.04" y="119.99" width="2.33" height="13.79" fill="#d5856d"/><rect x="151.02" y="119.99" width="2.33" height="13.79" fill="#d5856d"/><rect x="153" y="119.99" width="2.33" height="13.79" fill="#d5856d"/><rect x="154.98" y="119.99" width="2.33" height="13.79" fill="#d5856d"/><rect x="156.96" y="119.99" width="2.33" height="13.79" fill="#e1a08a"/><rect x="158.94" y="119.99" width="2.33" height="13.79" fill="#f3d6ca"/><rect x="160.92" y="119.99" width="2.33" height="13.79" fill="#c76a58"/><rect x="162.9" y="119.99" width="2.33" height="13.79" fill="#c76a58"/><rect x="164.88" y="119.99" width="2.33" height="13.79" fill="#d5856d"/><rect x="166.86" y="119.99" width="2.33" height="13.79" fill="#d5856d"/><rect x="168.84" y="119.99" width="2.33" height="13.79" fill="#d5856d"/><rect x="170.82" y="119.99" width="2.33" height="13.79" fill="#d5856d"/><rect x="172.8" y="119.99" width="2.33" height="13.79" fill="#e1a08a"/><rect x="174.78" y="119.99" width="2.33" height="13.79" fill="#d5856d"/><rect x="176.76" y="119.99" width="2.33" height="13.79" fill="#e1a08a"/><rect x="178.74" y="119.99" width="2.33" height="13.79" fill="#d5856d"/><rect x="180.72" y="119.99" width="2.33" height="13.79" fill="#d5856d"/><rect x="182.7" y="119.99" width="2.33" height="13.79" fill="#e1a08a"/><rect x="184.68" y="119.99" width="2.33" height="13.79" fill="#ebbba7"/><rect x="188.64" y="119.99" width="2.33" height="13.79" fill="#e1a08a"/><rect x="190.62" y="119.99" width="2.33" height="13.79" fill="#d5856d"/><rect x="192.6" y="119.99" width="2.33" height="13.79" fill="#e1a08a"/><rect x="194.58" y="119.99" width="2.33" height="13.79" fill="#d5856d"/><rect x="196.56" y="119.99" width="2.33" height="13.79" fill="#ebbba7"/><rect x="198.54" y="119.99" width="2.33" height="13.79" fill="#d5856d"/><rect x="200.52" y="119.99" width="2.33" height="13.79" fill="#d5856d"/><rect x="202.5" y="119.99" width="2.33" height="13.79" fill="#e1a08a"/><rect x="206.46" y="119.99" width="2.33" height="13.79" fill="#d5856d"/><rect x="208.44" y="119.99" width="2.33" height="13.79" fill="#d5856d"/><rect x="212.4" y="119.99" width="2.33" height="13.79" fill="#d5856d"/><rect x="214.38" y="119.99" width="2.33" height="13.79" fill="#e1a08a"/><rect x="218.34" y="119.99" width="2.33" height="13.79" fill="#d5856d"/><rect x="220.32" y="119.99" width="2.33" height="13.79" fill="#d5856d"/><rect x="222.3" y="119.99" width="2.33" height="13.79" fill="#d5856d"/><rect x="224.28" y="119.99" width="2.33" height="13.79" fill="#d5856d"/><rect x="226.26" y="119.99" width="2.33" height="13.79" fill="#e1a08a"/><rect x="228.24" y="119.99" width="2.33" height="13.79" fill="#ebbba7"/><rect x="230.22" y="119.99" width="2.33" height="13.79" fill="#e1a08a"/><rect x="232.2" y="119.99" width="2.33" height="13.79" fill="#d5856d"/><rect x="234.18" y="119.99" width="2.33" height="13.79" fill="#e1a08a"/><rect x="236.16" y="119.99" width="2.33" height="13.79" fill="#e1a08a"/><rect x="238.14" y="119.99" width="2.33" height="13.79" fill="#ebbba7"/><rect x="240.12" y="119.99" width="2.33" height="13.79" fill="#ebbba7"/><rect x="242.1" y="119.99" width="2.33" height="13.79" fill="#e1a08a"/><rect x="244.08" y="119.99" width="2.33" height="13.79" fill="#d5856d"/><rect x="246.06" y="119.99" width="2.33" height="13.79" fill="#e1a08a"/><rect x="248.04" y="119.99" width="2.33" height="13.79" fill="#ebbba7"/><rect x="250.02" y="119.99" width="2.33" height="13.79" fill="#d5856d"/><rect x="252" y="119.99" width="2.33" height="13.79" fill="#d5856d"/><rect x="253.98" y="119.99" width="2.33" height="13.79" fill="#e1a08a"/><rect x="255.96" y="119.99" width="2.33" height="13.79" fill="#ebbba7"/><rect x="257.94" y="119.99" width="2.33" height="13.79" fill="#ebbba7"/><rect x="259.92" y="119.99" width="2.33" height="13.79" fill="#e1a08a"/><text x="267.3" y="128.8" font-size="6.3" fill="#231f20" textLength="67.3" lengthAdjust="spacingAndGlyphs">BACH2 (−2345 to +5398)</text><rect x="52.05" y="133.78" width="2.33" height="13.79" fill="#c76a58"/><rect x="54.03" y="133.78" width="2.33" height="13.79" fill="#d5856d"/><rect x="65.91" y="133.78" width="2.33" height="13.79" fill="#c76a58"/><rect x="73.83" y="133.78" width="2.33" height="13.79" fill="#e1a08a"/><rect x="75.81" y="133.78" width="2.33" height="13.79" fill="#e1a08a"/><rect x="77.79" y="133.78" width="2.33" height="13.79" fill="#ebbba7"/><rect x="123.3" y="133.78" width="2.33" height="13.79" fill="#d5856d"/><rect x="125.28" y="133.78" width="2.33" height="13.79" fill="#d5856d"/><rect x="127.26" y="133.78" width="2.33" height="13.79" fill="#d5856d"/><rect x="129.24" y="133.78" width="2.33" height="13.79" fill="#e1a08a"/><rect x="131.22" y="133.78" width="2.33" height="13.79" fill="#d5856d"/><rect x="133.2" y="133.78" width="2.33" height="13.79" fill="#d5856d"/><rect x="135.18" y="133.78" width="2.33" height="13.79" fill="#e1a08a"/><rect x="137.16" y="133.78" width="2.33" height="13.79" fill="#e1a08a"/><rect x="139.14" y="133.78" width="2.33" height="13.79" fill="#e1a08a"/><rect x="141.12" y="133.78" width="2.33" height="13.79" fill="#d5856d"/><rect x="143.1" y="133.78" width="2.33" height="13.79" fill="#d5856d"/><rect x="145.08" y="133.78" width="2.33" height="13.79" fill="#e1a08a"/><rect x="147.06" y="133.78" width="2.33" height="13.79" fill="#d5856d"/><rect x="151.02" y="133.78" width="2.33" height="13.79" fill="#e1a08a"/><rect x="153" y="133.78" width="2.33" height="13.79" fill="#e1a08a"/><rect x="154.98" y="133.78" width="2.33" height="13.79" fill="#d5856d"/><rect x="156.96" y="133.78" width="2.33" height="13.79" fill="#e1a08a"/><rect x="158.94" y="133.78" width="2.33" height="13.79" fill="#d5856d"/><rect x="160.92" y="133.78" width="2.33" height="13.79" fill="#d5856d"/><rect x="162.9" y="133.78" width="2.33" height="13.79" fill="#d5856d"/><rect x="164.88" y="133.78" width="2.33" height="13.79" fill="#d5856d"/><rect x="166.86" y="133.78" width="2.33" height="13.79" fill="#d5856d"/><rect x="168.84" y="133.78" width="2.33" height="13.79" fill="#d5856d"/><rect x="170.82" y="133.78" width="2.33" height="13.79" fill="#e1a08a"/><rect x="172.8" y="133.78" width="2.33" height="13.79" fill="#e1a08a"/><rect x="174.78" y="133.78" width="2.33" height="13.79" fill="#e1a08a"/><rect x="176.76" y="133.78" width="2.33" height="13.79" fill="#ebbba7"/><rect x="178.74" y="133.78" width="2.33" height="13.79" fill="#e1a08a"/><rect x="180.72" y="133.78" width="2.33" height="13.79" fill="#e1a08a"/><rect x="182.7" y="133.78" width="2.33" height="13.79" fill="#d5856d"/><rect x="186.66" y="133.78" width="2.33" height="13.79" fill="#d5856d"/><rect x="188.64" y="133.78" width="2.33" height="13.79" fill="#d5856d"/><rect x="190.62" y="133.78" width="2.33" height="13.79" fill="#e1a08a"/><rect x="192.6" y="133.78" width="2.33" height="13.79" fill="#e1a08a"/><rect x="196.56" y="133.78" width="2.33" height="13.79" fill="#e1a08a"/><rect x="198.54" y="133.78" width="2.33" height="13.79" fill="#d5856d"/><rect x="200.52" y="133.78" width="2.33" height="13.79" fill="#e1a08a"/><rect x="204.48" y="133.78" width="2.33" height="13.79" fill="#d5856d"/><rect x="206.46" y="133.78" width="2.33" height="13.79" fill="#e1a08a"/><rect x="208.44" y="133.78" width="2.33" height="13.79" fill="#e1a08a"/><rect x="210.42" y="133.78" width="2.33" height="13.79" fill="#e1a08a"/><rect x="212.4" y="133.78" width="2.33" height="13.79" fill="#e1a08a"/><rect x="214.38" y="133.78" width="2.33" height="13.79" fill="#d5856d"/><rect x="216.36" y="133.78" width="2.33" height="13.79" fill="#c76a58"/><rect x="218.34" y="133.78" width="2.33" height="13.79" fill="#e1a08a"/><rect x="220.32" y="133.78" width="2.33" height="13.79" fill="#e1a08a"/><rect x="222.3" y="133.78" width="2.33" height="13.79" fill="#d5856d"/><rect x="228.24" y="133.78" width="2.33" height="13.79" fill="#e1a08a"/><rect x="230.22" y="133.78" width="2.33" height="13.79" fill="#e1a08a"/><rect x="232.2" y="133.78" width="2.33" height="13.79" fill="#e1a08a"/><rect x="234.18" y="133.78" width="2.33" height="13.79" fill="#e1a08a"/><rect x="236.16" y="133.78" width="2.33" height="13.79" fill="#d5856d"/><rect x="238.14" y="133.78" width="2.33" height="13.79" fill="#d5856d"/><rect x="240.12" y="133.78" width="2.33" height="13.79" fill="#c76a58"/><rect x="242.1" y="133.78" width="2.33" height="13.79" fill="#c76a58"/><rect x="246.06" y="133.78" width="2.33" height="13.79" fill="#d5856d"/><rect x="250.02" y="133.78" width="2.33" height="13.79" fill="#e1a08a"/><rect x="252" y="133.78" width="2.33" height="13.79" fill="#e1a08a"/><text x="267.3" y="142.6" font-size="6.3" fill="#231f20" textLength="59.1" lengthAdjust="spacingAndGlyphs">BCL6 (−904 to +3029)</text><rect x="52.05" y="147.57" width="2.33" height="13.79" fill="#e1a08a"/><rect x="61.95" y="147.57" width="2.33" height="13.79" fill="#e1a08a"/><rect x="63.93" y="147.57" width="2.33" height="13.79" fill="#c76a58"/><rect x="65.91" y="147.57" width="2.33" height="13.79" fill="#e1a08a"/><rect x="73.83" y="147.57" width="2.33" height="13.79" fill="#c76a58"/><rect x="77.79" y="147.57" width="2.33" height="13.79" fill="#e1a08a"/><rect x="91.65" y="147.57" width="2.33" height="13.79" fill="#d5856d"/><rect x="107.49" y="147.57" width="2.33" height="13.79" fill="#d5856d"/><rect x="111.45" y="147.57" width="2.33" height="13.79" fill="#d5856d"/><rect x="123.3" y="147.57" width="2.33" height="13.79" fill="#d5856d"/><rect x="125.28" y="147.57" width="2.33" height="13.79" fill="#c76a58"/><rect x="127.26" y="147.57" width="2.33" height="13.79" fill="#e1a08a"/><rect x="129.24" y="147.57" width="2.33" height="13.79" fill="#ebbba7"/><rect x="133.2" y="147.57" width="2.33" height="13.79" fill="#e1a08a"/><rect x="135.18" y="147.57" width="2.33" height="13.79" fill="#d5856d"/><rect x="137.16" y="147.57" width="2.33" height="13.79" fill="#e1a08a"/><rect x="139.14" y="147.57" width="2.33" height="13.79" fill="#e1a08a"/><rect x="141.12" y="147.57" width="2.33" height="13.79" fill="#d5856d"/><rect x="143.1" y="147.57" width="2.33" height="13.79" fill="#e1a08a"/><rect x="145.08" y="147.57" width="2.33" height="13.79" fill="#ebbba7"/><rect x="147.06" y="147.57" width="2.33" height="13.79" fill="#d5856d"/><rect x="149.04" y="147.57" width="2.33" height="13.79" fill="#d5856d"/><rect x="151.02" y="147.57" width="2.33" height="13.79" fill="#e1a08a"/><rect x="154.98" y="147.57" width="2.33" height="13.79" fill="#e1a08a"/><rect x="156.96" y="147.57" width="2.33" height="13.79" fill="#ebbba7"/><rect x="158.94" y="147.57" width="2.33" height="13.79" fill="#e1a08a"/><rect x="160.92" y="147.57" width="2.33" height="13.79" fill="#d5856d"/><rect x="164.88" y="147.57" width="2.33" height="13.79" fill="#d5856d"/><rect x="166.86" y="147.57" width="2.33" height="13.79" fill="#e1a08a"/><rect x="168.84" y="147.57" width="2.33" height="13.79" fill="#d5856d"/><rect x="170.82" y="147.57" width="2.33" height="13.79" fill="#c76a58"/><rect x="172.8" y="147.57" width="2.33" height="13.79" fill="#d5856d"/><rect x="174.78" y="147.57" width="2.33" height="13.79" fill="#e1a08a"/><rect x="178.74" y="147.57" width="2.33" height="13.79" fill="#e1a08a"/><rect x="180.72" y="147.57" width="2.33" height="13.79" fill="#e1a08a"/><rect x="182.7" y="147.57" width="2.33" height="13.79" fill="#d5856d"/><rect x="184.68" y="147.57" width="2.33" height="13.79" fill="#e1a08a"/><rect x="186.66" y="147.57" width="2.33" height="13.79" fill="#d5856d"/><rect x="188.64" y="147.57" width="2.33" height="13.79" fill="#e1a08a"/><rect x="190.62" y="147.57" width="2.33" height="13.79" fill="#e1a08a"/><rect x="194.58" y="147.57" width="2.33" height="13.79" fill="#ebbba7"/><rect x="196.56" y="147.57" width="2.33" height="13.79" fill="#e1a08a"/><rect x="200.52" y="147.57" width="2.33" height="13.79" fill="#d5856d"/><rect x="202.5" y="147.57" width="2.33" height="13.79" fill="#e1a08a"/><rect x="204.48" y="147.57" width="2.33" height="13.79" fill="#e1a08a"/><rect x="206.46" y="147.57" width="2.33" height="13.79" fill="#d5856d"/><rect x="208.44" y="147.57" width="2.33" height="13.79" fill="#e1a08a"/><rect x="210.42" y="147.57" width="2.33" height="13.79" fill="#e1a08a"/><rect x="214.38" y="147.57" width="2.33" height="13.79" fill="#d5856d"/><rect x="216.36" y="147.57" width="2.33" height="13.79" fill="#e1a08a"/><rect x="218.34" y="147.57" width="2.33" height="13.79" fill="#e1a08a"/><rect x="220.32" y="147.57" width="2.33" height="13.79" fill="#e1a08a"/><rect x="232.2" y="147.57" width="2.33" height="13.79" fill="#d5856d"/><rect x="234.18" y="147.57" width="2.33" height="13.79" fill="#d5856d"/><rect x="242.1" y="147.57" width="2.33" height="13.79" fill="#d5856d"/><rect x="244.08" y="147.57" width="2.33" height="13.79" fill="#e1a08a"/><rect x="252" y="147.57" width="2.33" height="13.79" fill="#e1a08a"/><text x="267.3" y="156.5" font-size="6.3" fill="#231f20" textLength="65.5" lengthAdjust="spacingAndGlyphs">TCL1A (−2113 to +1427)</text><rect x="52.05" y="161.36" width="2.33" height="13.79" fill="#e1a08a"/><rect x="54.03" y="161.36" width="2.33" height="13.79" fill="#f3d6ca"/><rect x="71.85" y="161.36" width="2.33" height="13.79" fill="#ebbba7"/><rect x="107.49" y="161.36" width="2.33" height="13.79" fill="#ebbba7"/><rect x="123.3" y="161.36" width="2.33" height="13.79" fill="#e1a08a"/><rect x="125.28" y="161.36" width="2.33" height="13.79" fill="#d5856d"/><rect x="127.26" y="161.36" width="2.33" height="13.79" fill="#e1a08a"/><rect x="129.24" y="161.36" width="2.33" height="13.79" fill="#e1a08a"/><rect x="131.22" y="161.36" width="2.33" height="13.79" fill="#ebbba7"/><rect x="133.2" y="161.36" width="2.33" height="13.79" fill="#e1a08a"/><rect x="135.18" y="161.36" width="2.33" height="13.79" fill="#d5856d"/><rect x="137.16" y="161.36" width="2.33" height="13.79" fill="#ebbba7"/><rect x="139.14" y="161.36" width="2.33" height="13.79" fill="#e1a08a"/><rect x="141.12" y="161.36" width="2.33" height="13.79" fill="#e1a08a"/><rect x="143.1" y="161.36" width="2.33" height="13.79" fill="#e1a08a"/><rect x="145.08" y="161.36" width="2.33" height="13.79" fill="#e1a08a"/><rect x="147.06" y="161.36" width="2.33" height="13.79" fill="#e1a08a"/><rect x="149.04" y="161.36" width="2.33" height="13.79" fill="#f3d6ca"/><rect x="151.02" y="161.36" width="2.33" height="13.79" fill="#f3d6ca"/><rect x="153" y="161.36" width="2.33" height="13.79" fill="#f3d6ca"/><rect x="154.98" y="161.36" width="2.33" height="13.79" fill="#f3d6ca"/><rect x="156.96" y="161.36" width="2.33" height="13.79" fill="#f3d6ca"/><rect x="158.94" y="161.36" width="2.33" height="13.79" fill="#ebbba7"/><rect x="160.92" y="161.36" width="2.33" height="13.79" fill="#e1a08a"/><rect x="162.9" y="161.36" width="2.33" height="13.79" fill="#e1a08a"/><rect x="164.88" y="161.36" width="2.33" height="13.79" fill="#ebbba7"/><rect x="166.86" y="161.36" width="2.33" height="13.79" fill="#f3d6ca"/><rect x="168.84" y="161.36" width="2.33" height="13.79" fill="#e1a08a"/><rect x="170.82" y="161.36" width="2.33" height="13.79" fill="#e1a08a"/><rect x="172.8" y="161.36" width="2.33" height="13.79" fill="#ebbba7"/><rect x="174.78" y="161.36" width="2.33" height="13.79" fill="#e1a08a"/><rect x="176.76" y="161.36" width="2.33" height="13.79" fill="#e1a08a"/><rect x="180.72" y="161.36" width="2.33" height="13.79" fill="#e1a08a"/><rect x="184.68" y="161.36" width="2.33" height="13.79" fill="#e1a08a"/><rect x="188.64" y="161.36" width="2.33" height="13.79" fill="#e1a08a"/><rect x="192.6" y="161.36" width="2.33" height="13.79" fill="#ebbba7"/><rect x="194.58" y="161.36" width="2.33" height="13.79" fill="#e1a08a"/><rect x="196.56" y="161.36" width="2.33" height="13.79" fill="#ebbba7"/><rect x="198.54" y="161.36" width="2.33" height="13.79" fill="#ebbba7"/><rect x="200.52" y="161.36" width="2.33" height="13.79" fill="#f3d6ca"/><rect x="204.48" y="161.36" width="2.33" height="13.79" fill="#ebbba7"/><rect x="206.46" y="161.36" width="2.33" height="13.79" fill="#ebbba7"/><rect x="208.44" y="161.36" width="2.33" height="13.79" fill="#f3d6ca"/><rect x="210.42" y="161.36" width="2.33" height="13.79" fill="#ebbba7"/><rect x="212.4" y="161.36" width="2.33" height="13.79" fill="#e1a08a"/><rect x="214.38" y="161.36" width="2.33" height="13.79" fill="#e1a08a"/><rect x="216.36" y="161.36" width="2.33" height="13.79" fill="#f3d6ca"/><rect x="218.34" y="161.36" width="2.33" height="13.79" fill="#f3d6ca"/><rect x="224.28" y="161.36" width="2.33" height="13.79" fill="#ebbba7"/><rect x="226.26" y="161.36" width="2.33" height="13.79" fill="#ebbba7"/><rect x="230.22" y="161.36" width="2.33" height="13.79" fill="#ebbba7"/><rect x="232.2" y="161.36" width="2.33" height="13.79" fill="#e1a08a"/><rect x="236.16" y="161.36" width="2.33" height="13.79" fill="#d5856d"/><rect x="240.12" y="161.36" width="2.33" height="13.79" fill="#ebbba7"/><rect x="242.1" y="161.36" width="2.33" height="13.79" fill="#e1a08a"/><rect x="250.02" y="161.36" width="2.33" height="13.79" fill="#f3d6ca"/><rect x="253.98" y="161.36" width="2.33" height="13.79" fill="#e1a08a"/><rect x="255.96" y="161.36" width="2.33" height="13.79" fill="#e1a08a"/><text x="267.3" y="170.1" font-size="6.3" fill="#231f20" textLength="66.4" lengthAdjust="spacingAndGlyphs">BCL7A (−3274 to +5811)</text><rect x="52.05" y="175.15" width="2.33" height="13.79" fill="#c76a58"/><rect x="57.99" y="175.15" width="2.33" height="13.79" fill="#d5856d"/><rect x="81.75" y="175.15" width="2.33" height="13.79" fill="#d5856d"/><rect x="101.55" y="175.15" width="2.33" height="13.79" fill="#d5856d"/><rect x="123.3" y="175.15" width="2.33" height="13.79" fill="#d5856d"/><rect x="125.28" y="175.15" width="2.33" height="13.79" fill="#aa4c4d"/><rect x="127.26" y="175.15" width="2.33" height="13.79" fill="#c76a58"/><rect x="129.24" y="175.15" width="2.33" height="13.79" fill="#8a2f3a"/><rect x="131.22" y="175.15" width="2.33" height="13.79" fill="#d5856d"/><rect x="133.2" y="175.15" width="2.33" height="13.79" fill="#d5856d"/><rect x="135.18" y="175.15" width="2.33" height="13.79" fill="#e1a08a"/><rect x="137.16" y="175.15" width="2.33" height="13.79" fill="#e1a08a"/><rect x="141.12" y="175.15" width="2.33" height="13.79" fill="#d5856d"/><rect x="143.1" y="175.15" width="2.33" height="13.79" fill="#d5856d"/><rect x="147.06" y="175.15" width="2.33" height="13.79" fill="#c76a58"/><rect x="151.02" y="175.15" width="2.33" height="13.79" fill="#e1a08a"/><rect x="153" y="175.15" width="2.33" height="13.79" fill="#e1a08a"/><rect x="154.98" y="175.15" width="2.33" height="13.79" fill="#e1a08a"/><rect x="160.92" y="175.15" width="2.33" height="13.79" fill="#d5856d"/><rect x="162.9" y="175.15" width="2.33" height="13.79" fill="#c76a58"/><rect x="164.88" y="175.15" width="2.33" height="13.79" fill="#d5856d"/><rect x="168.84" y="175.15" width="2.33" height="13.79" fill="#c76a58"/><rect x="170.82" y="175.15" width="2.33" height="13.79" fill="#c76a58"/><rect x="172.8" y="175.15" width="2.33" height="13.79" fill="#d5856d"/><rect x="176.76" y="175.15" width="2.33" height="13.79" fill="#c76a58"/><rect x="180.72" y="175.15" width="2.33" height="13.79" fill="#d5856d"/><rect x="182.7" y="175.15" width="2.33" height="13.79" fill="#d5856d"/><rect x="184.68" y="175.15" width="2.33" height="13.79" fill="#d5856d"/><rect x="186.66" y="175.15" width="2.33" height="13.79" fill="#c76a58"/><rect x="188.64" y="175.15" width="2.33" height="13.79" fill="#d5856d"/><rect x="192.6" y="175.15" width="2.33" height="13.79" fill="#d5856d"/><rect x="194.58" y="175.15" width="2.33" height="13.79" fill="#d5856d"/><rect x="196.56" y="175.15" width="2.33" height="13.79" fill="#d5856d"/><rect x="198.54" y="175.15" width="2.33" height="13.79" fill="#c76a58"/><rect x="200.52" y="175.15" width="2.33" height="13.79" fill="#c76a58"/><rect x="204.48" y="175.15" width="2.33" height="13.79" fill="#c76a58"/><rect x="206.46" y="175.15" width="2.33" height="13.79" fill="#c76a58"/><rect x="208.44" y="175.15" width="2.33" height="13.79" fill="#d5856d"/><rect x="222.3" y="175.15" width="2.33" height="13.79" fill="#d5856d"/><rect x="228.24" y="175.15" width="2.33" height="13.79" fill="#d5856d"/><rect x="230.22" y="175.15" width="2.33" height="13.79" fill="#d5856d"/><rect x="232.2" y="175.15" width="2.33" height="13.79" fill="#c76a58"/><rect x="240.12" y="175.15" width="2.33" height="13.79" fill="#c76a58"/><rect x="242.1" y="175.15" width="2.33" height="13.79" fill="#d5856d"/><rect x="248.04" y="175.15" width="2.33" height="13.79" fill="#d5856d"/><rect x="252" y="175.15" width="2.33" height="13.79" fill="#d5856d"/><rect x="253.98" y="175.15" width="2.33" height="13.79" fill="#d5856d"/><text x="267.3" y="184" font-size="6.3" fill="#231f20" textLength="59.1" lengthAdjust="spacingAndGlyphs">BTG2 (+225 to +2138)</text><rect x="52.05" y="188.94" width="2.33" height="13.79" fill="#c76a58"/><rect x="54.03" y="188.94" width="2.33" height="13.79" fill="#ebbba7"/><rect x="57.99" y="188.94" width="2.33" height="13.79" fill="#e1a08a"/><rect x="63.93" y="188.94" width="2.33" height="13.79" fill="#e1a08a"/><rect x="79.77" y="188.94" width="2.33" height="13.79" fill="#c76a58"/><rect x="101.55" y="188.94" width="2.33" height="13.79" fill="#d5856d"/><rect x="115.41" y="188.94" width="2.33" height="13.79" fill="#d5856d"/><rect x="123.3" y="188.94" width="2.33" height="13.79" fill="#e1a08a"/><rect x="125.28" y="188.94" width="2.33" height="13.79" fill="#d5856d"/><rect x="127.26" y="188.94" width="2.33" height="13.79" fill="#d5856d"/><rect x="129.24" y="188.94" width="2.33" height="13.79" fill="#c76a58"/><rect x="131.22" y="188.94" width="2.33" height="13.79" fill="#c76a58"/><rect x="133.2" y="188.94" width="2.33" height="13.79" fill="#e1a08a"/><rect x="135.18" y="188.94" width="2.33" height="13.79" fill="#e1a08a"/><rect x="137.16" y="188.94" width="2.33" height="13.79" fill="#d5856d"/><rect x="139.14" y="188.94" width="2.33" height="13.79" fill="#d5856d"/><rect x="141.12" y="188.94" width="2.33" height="13.79" fill="#d5856d"/><rect x="143.1" y="188.94" width="2.33" height="13.79" fill="#d5856d"/><rect x="147.06" y="188.94" width="2.33" height="13.79" fill="#d5856d"/><rect x="151.02" y="188.94" width="2.33" height="13.79" fill="#d5856d"/><rect x="158.94" y="188.94" width="2.33" height="13.79" fill="#e1a08a"/><rect x="160.92" y="188.94" width="2.33" height="13.79" fill="#c76a58"/><rect x="162.9" y="188.94" width="2.33" height="13.79" fill="#d5856d"/><rect x="164.88" y="188.94" width="2.33" height="13.79" fill="#d5856d"/><rect x="170.82" y="188.94" width="2.33" height="13.79" fill="#c76a58"/><rect x="172.8" y="188.94" width="2.33" height="13.79" fill="#c76a58"/><rect x="174.78" y="188.94" width="2.33" height="13.79" fill="#d5856d"/><rect x="178.74" y="188.94" width="2.33" height="13.79" fill="#e1a08a"/><rect x="184.68" y="188.94" width="2.33" height="13.79" fill="#e1a08a"/><rect x="188.64" y="188.94" width="2.33" height="13.79" fill="#d5856d"/><rect x="190.62" y="188.94" width="2.33" height="13.79" fill="#d5856d"/><rect x="192.6" y="188.94" width="2.33" height="13.79" fill="#e1a08a"/><rect x="212.4" y="188.94" width="2.33" height="13.79" fill="#e1a08a"/><rect x="214.38" y="188.94" width="2.33" height="13.79" fill="#e1a08a"/><rect x="220.32" y="188.94" width="2.33" height="13.79" fill="#c76a58"/><rect x="222.3" y="188.94" width="2.33" height="13.79" fill="#d5856d"/><rect x="224.28" y="188.94" width="2.33" height="13.79" fill="#c76a58"/><rect x="230.22" y="188.94" width="2.33" height="13.79" fill="#e1a08a"/><rect x="236.16" y="188.94" width="2.33" height="13.79" fill="#d5856d"/><rect x="255.96" y="188.94" width="2.33" height="13.79" fill="#d5856d"/><text x="267.3" y="197.6" font-size="6.3" fill="#231f20" textLength="63.3" lengthAdjust="spacingAndGlyphs">CXCR4 (−575 to +2204)</text><rect x="52.05" y="202.73" width="2.33" height="13.79" fill="#d5856d"/><rect x="54.03" y="202.73" width="2.33" height="13.79" fill="#e1a08a"/><rect x="65.91" y="202.73" width="2.33" height="13.79" fill="#d5856d"/><rect x="77.79" y="202.73" width="2.33" height="13.79" fill="#d5856d"/><rect x="123.3" y="202.73" width="2.33" height="13.79" fill="#d5856d"/><rect x="125.28" y="202.73" width="2.33" height="13.79" fill="#d5856d"/><rect x="127.26" y="202.73" width="2.33" height="13.79" fill="#d5856d"/><rect x="129.24" y="202.73" width="2.33" height="13.79" fill="#e1a08a"/><rect x="133.2" y="202.73" width="2.33" height="13.79" fill="#d5856d"/><rect x="135.18" y="202.73" width="2.33" height="13.79" fill="#d5856d"/><rect x="149.04" y="202.73" width="2.33" height="13.79" fill="#d5856d"/><rect x="154.98" y="202.73" width="2.33" height="13.79" fill="#e1a08a"/><rect x="156.96" y="202.73" width="2.33" height="13.79" fill="#e1a08a"/><rect x="158.94" y="202.73" width="2.33" height="13.79" fill="#e1a08a"/><rect x="162.9" y="202.73" width="2.33" height="13.79" fill="#d5856d"/><rect x="164.88" y="202.73" width="2.33" height="13.79" fill="#d5856d"/><rect x="170.82" y="202.73" width="2.33" height="13.79" fill="#e1a08a"/><rect x="172.8" y="202.73" width="2.33" height="13.79" fill="#d5856d"/><rect x="188.64" y="202.73" width="2.33" height="13.79" fill="#d5856d"/><rect x="202.5" y="202.73" width="2.33" height="13.79" fill="#d5856d"/><rect x="206.46" y="202.73" width="2.33" height="13.79" fill="#d5856d"/><rect x="208.44" y="202.73" width="2.33" height="13.79" fill="#c76a58"/><rect x="210.42" y="202.73" width="2.33" height="13.79" fill="#d5856d"/><rect x="214.38" y="202.73" width="2.33" height="13.79" fill="#d5856d"/><rect x="222.3" y="202.73" width="2.33" height="13.79" fill="#d5856d"/><rect x="226.26" y="202.73" width="2.33" height="13.79" fill="#d5856d"/><rect x="230.22" y="202.73" width="2.33" height="13.79" fill="#e1a08a"/><rect x="232.2" y="202.73" width="2.33" height="13.79" fill="#e1a08a"/><text x="267.3" y="211.2" font-size="6.3" fill="#231f20" textLength="60" lengthAdjust="spacingAndGlyphs">DTX1 (−1476 to +973)</text><rect x="56.01" y="216.52" width="2.33" height="13.79" fill="#d5856d"/><rect x="63.93" y="216.52" width="2.33" height="13.79" fill="#c76a58"/><rect x="125.28" y="216.52" width="2.33" height="13.79" fill="#aa4c4d"/><rect x="131.22" y="216.52" width="2.33" height="13.79" fill="#d5856d"/><rect x="135.18" y="216.52" width="2.33" height="13.79" fill="#d5856d"/><rect x="137.16" y="216.52" width="2.33" height="13.79" fill="#d5856d"/><rect x="147.06" y="216.52" width="2.33" height="13.79" fill="#d5856d"/><rect x="149.04" y="216.52" width="2.33" height="13.79" fill="#d5856d"/><rect x="151.02" y="216.52" width="2.33" height="13.79" fill="#d5856d"/><rect x="158.94" y="216.52" width="2.33" height="13.79" fill="#d5856d"/><rect x="162.9" y="216.52" width="2.33" height="13.79" fill="#d5856d"/><rect x="166.86" y="216.52" width="2.33" height="13.79" fill="#c76a58"/><rect x="170.82" y="216.52" width="2.33" height="13.79" fill="#c76a58"/><rect x="176.76" y="216.52" width="2.33" height="13.79" fill="#c76a58"/><rect x="190.62" y="216.52" width="2.33" height="13.79" fill="#d5856d"/><rect x="210.42" y="216.52" width="2.33" height="13.79" fill="#c76a58"/><rect x="214.38" y="216.52" width="2.33" height="13.79" fill="#c76a58"/><rect x="220.32" y="216.52" width="2.33" height="13.79" fill="#c76a58"/><rect x="222.3" y="216.52" width="2.33" height="13.79" fill="#d5856d"/><rect x="228.24" y="216.52" width="2.33" height="13.79" fill="#c76a58"/><rect x="236.16" y="216.52" width="2.33" height="13.79" fill="#c76a58"/><rect x="238.14" y="216.52" width="2.33" height="13.79" fill="#c76a58"/><rect x="242.1" y="216.52" width="2.33" height="13.79" fill="#d5856d"/><rect x="252" y="216.52" width="2.33" height="13.79" fill="#d5856d"/><rect x="259.92" y="216.52" width="2.33" height="13.79" fill="#d5856d"/><text x="267.3" y="225.3" font-size="6.3" fill="#231f20" textLength="68.6" lengthAdjust="spacingAndGlyphs">ZFP36L1 (+408 to +1412)</text><rect x="54.03" y="230.31" width="2.33" height="13.79" fill="#e1a08a"/><rect x="123.3" y="230.31" width="2.33" height="13.79" fill="#e1a08a"/><rect x="125.28" y="230.31" width="2.33" height="13.79" fill="#d5856d"/><rect x="127.26" y="230.31" width="2.33" height="13.79" fill="#d5856d"/><rect x="129.24" y="230.31" width="2.33" height="13.79" fill="#e1a08a"/><rect x="131.22" y="230.31" width="2.33" height="13.79" fill="#e1a08a"/><rect x="135.18" y="230.31" width="2.33" height="13.79" fill="#d5856d"/><rect x="139.14" y="230.31" width="2.33" height="13.79" fill="#d5856d"/><rect x="141.12" y="230.31" width="2.33" height="13.79" fill="#d5856d"/><rect x="145.08" y="230.31" width="2.33" height="13.79" fill="#e1a08a"/><rect x="149.04" y="230.31" width="2.33" height="13.79" fill="#c76a58"/><rect x="158.94" y="230.31" width="2.33" height="13.79" fill="#e1a08a"/><rect x="160.92" y="230.31" width="2.33" height="13.79" fill="#e1a08a"/><rect x="162.9" y="230.31" width="2.33" height="13.79" fill="#e1a08a"/><rect x="166.86" y="230.31" width="2.33" height="13.79" fill="#d5856d"/><rect x="170.82" y="230.31" width="2.33" height="13.79" fill="#d5856d"/><rect x="172.8" y="230.31" width="2.33" height="13.79" fill="#d5856d"/><rect x="182.7" y="230.31" width="2.33" height="13.79" fill="#d5856d"/><rect x="196.56" y="230.31" width="2.33" height="13.79" fill="#d5856d"/><rect x="198.54" y="230.31" width="2.33" height="13.79" fill="#e1a08a"/><rect x="214.38" y="230.31" width="2.33" height="13.79" fill="#d5856d"/><rect x="218.34" y="230.31" width="2.33" height="13.79" fill="#d5856d"/><rect x="232.2" y="230.31" width="2.33" height="13.79" fill="#d5856d"/><rect x="238.14" y="230.31" width="2.33" height="13.79" fill="#d5856d"/><rect x="242.1" y="230.31" width="2.33" height="13.79" fill="#e1a08a"/><text x="267.3" y="239.3" font-size="6.3" fill="#231f20" textLength="65.8" lengthAdjust="spacingAndGlyphs">MIR142 (−1081 to +992)</text><rect x="52.05" y="244.1" width="2.33" height="13.79" fill="#e1a08a"/><rect x="63.93" y="244.1" width="2.33" height="13.79" fill="#e1a08a"/><rect x="77.79" y="244.1" width="2.33" height="13.79" fill="#e1a08a"/><rect x="91.65" y="244.1" width="2.33" height="13.79" fill="#d5856d"/><rect x="125.28" y="244.1" width="2.33" height="13.79" fill="#e1a08a"/><rect x="129.24" y="244.1" width="2.33" height="13.79" fill="#d5856d"/><rect x="133.2" y="244.1" width="2.33" height="13.79" fill="#d5856d"/><rect x="137.16" y="244.1" width="2.33" height="13.79" fill="#d5856d"/><rect x="145.08" y="244.1" width="2.33" height="13.79" fill="#d5856d"/><rect x="147.06" y="244.1" width="2.33" height="13.79" fill="#d5856d"/><rect x="156.96" y="244.1" width="2.33" height="13.79" fill="#d5856d"/><rect x="158.94" y="244.1" width="2.33" height="13.79" fill="#c76a58"/><rect x="160.92" y="244.1" width="2.33" height="13.79" fill="#c76a58"/><rect x="162.9" y="244.1" width="2.33" height="13.79" fill="#d5856d"/><rect x="164.88" y="244.1" width="2.33" height="13.79" fill="#d5856d"/><rect x="178.74" y="244.1" width="2.33" height="13.79" fill="#d5856d"/><rect x="190.62" y="244.1" width="2.33" height="13.79" fill="#d5856d"/><rect x="192.6" y="244.1" width="2.33" height="13.79" fill="#e1a08a"/><rect x="206.46" y="244.1" width="2.33" height="13.79" fill="#d5856d"/><rect x="218.34" y="244.1" width="2.33" height="13.79" fill="#d5856d"/><rect x="220.32" y="244.1" width="2.33" height="13.79" fill="#d5856d"/><rect x="222.3" y="244.1" width="2.33" height="13.79" fill="#e1a08a"/><rect x="234.18" y="244.1" width="2.33" height="13.79" fill="#e1a08a"/><text x="267.3" y="252.8" font-size="6.3" fill="#231f20" textLength="66.7" lengthAdjust="spacingAndGlyphs">ST6GAL1 (−853 to +976)</text><rect x="56.01" y="257.89" width="2.33" height="13.79" fill="#d5856d"/><rect x="97.59" y="257.89" width="2.33" height="13.79" fill="#d5856d"/><rect x="123.3" y="257.89" width="2.33" height="13.79" fill="#d5856d"/><rect x="127.26" y="257.89" width="2.33" height="13.79" fill="#d5856d"/><rect x="129.24" y="257.89" width="2.33" height="13.79" fill="#e1a08a"/><rect x="135.18" y="257.89" width="2.33" height="13.79" fill="#c76a58"/><rect x="137.16" y="257.89" width="2.33" height="13.79" fill="#d5856d"/><rect x="141.12" y="257.89" width="2.33" height="13.79" fill="#d5856d"/><rect x="145.08" y="257.89" width="2.33" height="13.79" fill="#e1a08a"/><rect x="149.04" y="257.89" width="2.33" height="13.79" fill="#d5856d"/><rect x="168.84" y="257.89" width="2.33" height="13.79" fill="#d5856d"/><rect x="174.78" y="257.89" width="2.33" height="13.79" fill="#d5856d"/><rect x="176.76" y="257.89" width="2.33" height="13.79" fill="#d5856d"/><rect x="190.62" y="257.89" width="2.33" height="13.79" fill="#d5856d"/><rect x="198.54" y="257.89" width="2.33" height="13.79" fill="#d5856d"/><rect x="222.3" y="257.89" width="2.33" height="13.79" fill="#d5856d"/><rect x="230.22" y="257.89" width="2.33" height="13.79" fill="#d5856d"/><rect x="232.2" y="257.89" width="2.33" height="13.79" fill="#d5856d"/><rect x="240.12" y="257.89" width="2.33" height="13.79" fill="#e1a08a"/><rect x="242.1" y="257.89" width="2.33" height="13.79" fill="#e1a08a"/><rect x="244.08" y="257.89" width="2.33" height="13.79" fill="#e1a08a"/><rect x="257.94" y="257.89" width="2.33" height="13.79" fill="#e1a08a"/><text x="267.3" y="266.4" font-size="6.3" fill="#231f20" textLength="61.9" lengthAdjust="spacingAndGlyphs">RHOH (−719 to +1417)</text><rect x="125.28" y="271.68" width="2.33" height="13.79" fill="#c76a58"/><rect x="127.26" y="271.68" width="2.33" height="13.79" fill="#c76a58"/><rect x="129.24" y="271.68" width="2.33" height="13.79" fill="#e1a08a"/><rect x="133.2" y="271.68" width="2.33" height="13.79" fill="#c76a58"/><rect x="135.18" y="271.68" width="2.33" height="13.79" fill="#d5856d"/><rect x="143.1" y="271.68" width="2.33" height="13.79" fill="#d5856d"/><rect x="151.02" y="271.68" width="2.33" height="13.79" fill="#d5856d"/><rect x="154.98" y="271.68" width="2.33" height="13.79" fill="#d5856d"/><rect x="164.88" y="271.68" width="2.33" height="13.79" fill="#d5856d"/><rect x="170.82" y="271.68" width="2.33" height="13.79" fill="#d5856d"/><rect x="180.72" y="271.68" width="2.33" height="13.79" fill="#c76a58"/><rect x="182.7" y="271.68" width="2.33" height="13.79" fill="#c76a58"/><rect x="184.68" y="271.68" width="2.33" height="13.79" fill="#d5856d"/><rect x="190.62" y="271.68" width="2.33" height="13.79" fill="#c76a58"/><rect x="192.6" y="271.68" width="2.33" height="13.79" fill="#d5856d"/><rect x="196.56" y="271.68" width="2.33" height="13.79" fill="#c76a58"/><rect x="198.54" y="271.68" width="2.33" height="13.79" fill="#c76a58"/><rect x="204.48" y="271.68" width="2.33" height="13.79" fill="#d5856d"/><rect x="220.32" y="271.68" width="2.33" height="13.79" fill="#c76a58"/><text x="267.3" y="280.5" font-size="6.3" fill="#231f20" textLength="54.3" lengthAdjust="spacingAndGlyphs">BIRC3 (+60 to +996)</text><rect x="59.97" y="285.47" width="2.33" height="13.79" fill="#e1a08a"/><rect x="115.41" y="285.47" width="2.33" height="13.79" fill="#d5856d"/><rect x="125.28" y="285.47" width="2.33" height="13.79" fill="#ebbba7"/><rect x="127.26" y="285.47" width="2.33" height="13.79" fill="#ebbba7"/><rect x="129.24" y="285.47" width="2.33" height="13.79" fill="#ebbba7"/><rect x="131.22" y="285.47" width="2.33" height="13.79" fill="#ebbba7"/><rect x="141.12" y="285.47" width="2.33" height="13.79" fill="#ebbba7"/><rect x="143.1" y="285.47" width="2.33" height="13.79" fill="#e1a08a"/><rect x="145.08" y="285.47" width="2.33" height="13.79" fill="#e1a08a"/><rect x="147.06" y="285.47" width="2.33" height="13.79" fill="#ebbba7"/><rect x="153" y="285.47" width="2.33" height="13.79" fill="#ebbba7"/><rect x="170.82" y="285.47" width="2.33" height="13.79" fill="#ebbba7"/><rect x="180.72" y="285.47" width="2.33" height="13.79" fill="#d5856d"/><rect x="188.64" y="285.47" width="2.33" height="13.79" fill="#d5856d"/><rect x="192.6" y="285.47" width="2.33" height="13.79" fill="#ebbba7"/><rect x="196.56" y="285.47" width="2.33" height="13.79" fill="#c76a58"/><rect x="218.34" y="285.47" width="2.33" height="13.79" fill="#d5856d"/><rect x="236.16" y="285.47" width="2.33" height="13.79" fill="#aa4c4d"/><text x="267.3" y="294.1" font-size="6.3" fill="#231f20" textLength="60" lengthAdjust="spacingAndGlyphs">PVT1 (−755 to +3376)</text><path d="M54.03 106.2V299.26 M56.01 106.2V299.26 M57.99 106.2V299.26 M59.97 106.2V299.26 M61.95 106.2V299.26 M63.93 106.2V299.26 M65.91 106.2V299.26 M67.89 106.2V299.26 M69.87 106.2V299.26 M71.85 106.2V299.26 M73.83 106.2V299.26 M75.81 106.2V299.26 M77.79 106.2V299.26 M79.77 106.2V299.26 M81.75 106.2V299.26 M83.73 106.2V299.26 M85.71 106.2V299.26 M87.69 106.2V299.26 M89.67 106.2V299.26 M91.65 106.2V299.26 M93.63 106.2V299.26 M95.61 106.2V299.26 M97.59 106.2V299.26 M99.57 106.2V299.26 M101.55 106.2V299.26 M103.53 106.2V299.26 M105.51 106.2V299.26 M107.49 106.2V299.26 M109.47 106.2V299.26 M111.45 106.2V299.26 M113.43 106.2V299.26 M115.41 106.2V299.26 M117.39 106.2V299.26 M119.37 106.2V299.26 M125.28 106.2V299.26 M127.26 106.2V299.26 M129.24 106.2V299.26 M131.22 106.2V299.26 M133.2 106.2V299.26 M135.18 106.2V299.26 M137.16 106.2V299.26 M139.14 106.2V299.26 M141.12 106.2V299.26 M143.1 106.2V299.26 M145.08 106.2V299.26 M147.06 106.2V299.26 M149.04 106.2V299.26 M151.02 106.2V299.26 M153 106.2V299.26 M154.98 106.2V299.26 M156.96 106.2V299.26 M158.94 106.2V299.26 M160.92 106.2V299.26 M162.9 106.2V299.26 M164.88 106.2V299.26 M166.86 106.2V299.26 M168.84 106.2V299.26 M170.82 106.2V299.26 M172.8 106.2V299.26 M174.78 106.2V299.26 M176.76 106.2V299.26 M178.74 106.2V299.26 M180.72 106.2V299.26 M182.7 106.2V299.26 M184.68 106.2V299.26 M186.66 106.2V299.26 M188.64 106.2V299.26 M190.62 106.2V299.26 M192.6 106.2V299.26 M194.58 106.2V299.26 M196.56 106.2V299.26 M198.54 106.2V299.26 M200.52 106.2V299.26 M202.5 106.2V299.26 M204.48 106.2V299.26 M206.46 106.2V299.26 M208.44 106.2V299.26 M210.42 106.2V299.26 M212.4 106.2V299.26 M214.38 106.2V299.26 M216.36 106.2V299.26 M218.34 106.2V299.26 M220.32 106.2V299.26 M222.3 106.2V299.26 M224.28 106.2V299.26 M226.26 106.2V299.26 M228.24 106.2V299.26 M230.22 106.2V299.26 M232.2 106.2V299.26 M234.18 106.2V299.26 M236.16 106.2V299.26 M238.14 106.2V299.26 M240.12 106.2V299.26 M242.1 106.2V299.26 M244.08 106.2V299.26 M246.06 106.2V299.26 M248.04 106.2V299.26 M250.02 106.2V299.26 M252 106.2V299.26 M253.98 106.2V299.26 M255.96 106.2V299.26 M257.94 106.2V299.26 M259.92 106.2V299.26 M261.9 106.2V299.26" stroke="#ffffff" stroke-opacity="0.32" stroke-width="0.6"/><rect x="52.05" y="119.64" width="69.3" height="0.7" fill="#ffffff" fill-opacity="0.3"/><rect x="123.3" y="119.64" width="140.58" height="0.7" fill="#ffffff" fill-opacity="0.3"/><rect x="52.05" y="133.43" width="69.3" height="0.7" fill="#ffffff" fill-opacity="0.3"/><rect x="123.3" y="133.43" width="140.58" height="0.7" fill="#ffffff" fill-opacity="0.3"/><rect x="52.05" y="147.22" width="69.3" height="0.7" fill="#ffffff" fill-opacity="0.3"/><rect x="123.3" y="147.22" width="140.58" height="0.7" fill="#ffffff" fill-opacity="0.3"/><rect x="52.05" y="161.01" width="69.3" height="0.7" fill="#ffffff" fill-opacity="0.3"/><rect x="123.3" y="161.01" width="140.58" height="0.7" fill="#ffffff" fill-opacity="0.3"/><rect x="52.05" y="174.8" width="69.3" height="0.7" fill="#ffffff" fill-opacity="0.3"/><rect x="123.3" y="174.8" width="140.58" height="0.7" fill="#ffffff" fill-opacity="0.3"/><rect x="52.05" y="188.59" width="69.3" height="0.7" fill="#ffffff" fill-opacity="0.3"/><rect x="123.3" y="188.59" width="140.58" height="0.7" fill="#ffffff" fill-opacity="0.3"/><rect x="52.05" y="202.38" width="69.3" height="0.7" fill="#ffffff" fill-opacity="0.3"/><rect x="123.3" y="202.38" width="140.58" height="0.7" fill="#ffffff" fill-opacity="0.3"/><rect x="52.05" y="216.17" width="69.3" height="0.7" fill="#ffffff" fill-opacity="0.3"/><rect x="123.3" y="216.17" width="140.58" height="0.7" fill="#ffffff" fill-opacity="0.3"/><rect x="52.05" y="229.96" width="69.3" height="0.7" fill="#ffffff" fill-opacity="0.3"/><rect x="123.3" y="229.96" width="140.58" height="0.7" fill="#ffffff" fill-opacity="0.3"/><rect x="52.05" y="243.75" width="69.3" height="0.7" fill="#ffffff" fill-opacity="0.3"/><rect x="123.3" y="243.75" width="140.58" height="0.7" fill="#ffffff" fill-opacity="0.3"/><rect x="52.05" y="257.54" width="69.3" height="0.7" fill="#ffffff" fill-opacity="0.3"/><rect x="123.3" y="257.54" width="140.58" height="0.7" fill="#ffffff" fill-opacity="0.3"/><rect x="52.05" y="271.33" width="69.3" height="0.7" fill="#ffffff" fill-opacity="0.3"/><rect x="123.3" y="271.33" width="140.58" height="0.7" fill="#ffffff" fill-opacity="0.3"/><rect x="52.05" y="285.12" width="69.3" height="0.7" fill="#ffffff" fill-opacity="0.3"/><rect x="123.3" y="285.12" width="140.58" height="0.7" fill="#ffffff" fill-opacity="0.3"/><rect x="52.05" y="304.6" width="69.3" height="36.9" fill="#f5f2f2"/><rect x="123.3" y="304.6" width="140.58" height="36.9" fill="#f5f2f2"/><rect x="52.05" y="304.6" width="2.33" height="12.3" fill="#d5856d"/><rect x="54.03" y="304.6" width="2.33" height="12.3" fill="#d5856d"/><rect x="79.77" y="304.6" width="2.33" height="12.3" fill="#ebbba7"/><rect x="101.55" y="304.6" width="2.33" height="12.3" fill="#d5856d"/><rect x="125.28" y="304.6" width="2.33" height="12.3" fill="#aa4c4d"/><rect x="133.2" y="304.6" width="2.33" height="12.3" fill="#d5856d"/><rect x="139.14" y="304.6" width="2.33" height="12.3" fill="#d5856d"/><rect x="143.1" y="304.6" width="2.33" height="12.3" fill="#d5856d"/><rect x="145.08" y="304.6" width="2.33" height="12.3" fill="#aa4c4d"/><rect x="154.98" y="304.6" width="2.33" height="12.3" fill="#aa4c4d"/><rect x="160.92" y="304.6" width="2.33" height="12.3" fill="#f3d6ca"/><rect x="162.9" y="304.6" width="2.33" height="12.3" fill="#f3d6ca"/><rect x="174.78" y="304.6" width="2.33" height="12.3" fill="#c76a58"/><rect x="176.76" y="304.6" width="2.33" height="12.3" fill="#d5856d"/><rect x="182.7" y="304.6" width="2.33" height="12.3" fill="#d5856d"/><rect x="186.66" y="304.6" width="2.33" height="12.3" fill="#d5856d"/><rect x="188.64" y="304.6" width="2.33" height="12.3" fill="#f3d6ca"/><rect x="194.58" y="304.6" width="2.33" height="12.3" fill="#f3d6ca"/><rect x="208.44" y="304.6" width="2.33" height="12.3" fill="#d5856d"/><rect x="212.4" y="304.6" width="2.33" height="12.3" fill="#d5856d"/><rect x="220.32" y="304.6" width="2.33" height="12.3" fill="#8a2f3a"/><rect x="230.22" y="304.6" width="2.33" height="12.3" fill="#c76a58"/><rect x="232.2" y="304.6" width="2.33" height="12.3" fill="#c76a58"/><rect x="242.1" y="304.6" width="2.33" height="12.3" fill="#aa4c4d"/><rect x="246.06" y="304.6" width="2.33" height="12.3" fill="#aa4c4d"/><rect x="248.04" y="304.6" width="2.33" height="12.3" fill="#aa4c4d"/><rect x="252" y="304.6" width="2.33" height="12.3" fill="#d5856d"/><rect x="259.92" y="304.6" width="2.33" height="12.3" fill="#aa4c4d"/><text x="267.3" y="313" font-size="6.3" fill="#231f20" textLength="73.5" lengthAdjust="spacingAndGlyphs">PAX5 enhancer (intergenic)</text><rect x="52.05" y="316.9" width="2.33" height="12.3" fill="#d5856d"/><rect x="54.03" y="316.9" width="2.33" height="12.3" fill="#f3d6ca"/><rect x="65.91" y="316.9" width="2.33" height="12.3" fill="#ebbba7"/><rect x="125.28" y="316.9" width="2.33" height="12.3" fill="#e1a08a"/><rect x="137.16" y="316.9" width="2.33" height="12.3" fill="#c76a58"/><rect x="143.1" y="316.9" width="2.33" height="12.3" fill="#d5856d"/><rect x="145.08" y="316.9" width="2.33" height="12.3" fill="#ebbba7"/><rect x="151.02" y="316.9" width="2.33" height="12.3" fill="#d5856d"/><rect x="153" y="316.9" width="2.33" height="12.3" fill="#ebbba7"/><rect x="168.84" y="316.9" width="2.33" height="12.3" fill="#f3d6ca"/><rect x="170.82" y="316.9" width="2.33" height="12.3" fill="#f3d6ca"/><rect x="188.64" y="316.9" width="2.33" height="12.3" fill="#d5856d"/><rect x="192.6" y="316.9" width="2.33" height="12.3" fill="#f3d6ca"/><rect x="196.56" y="316.9" width="2.33" height="12.3" fill="#f3d6ca"/><rect x="232.2" y="316.9" width="2.33" height="12.3" fill="#ebbba7"/><rect x="234.18" y="316.9" width="2.33" height="12.3" fill="#f3d6ca"/><rect x="238.14" y="316.9" width="2.33" height="12.3" fill="#e1a08a"/><rect x="240.12" y="316.9" width="2.33" height="12.3" fill="#d5856d"/><rect x="248.04" y="316.9" width="2.33" height="12.3" fill="#d5856d"/><text x="267.3" y="324.6" font-size="6.3" fill="#231f20" textLength="73.5" lengthAdjust="spacingAndGlyphs">BCL6 enhancer (intergenic)</text><rect x="52.05" y="329.2" width="2.33" height="12.3" fill="#d5856d"/><rect x="63.93" y="329.2" width="2.33" height="12.3" fill="#d5856d"/><rect x="79.77" y="329.2" width="2.33" height="12.3" fill="#d5856d"/><rect x="133.2" y="329.2" width="2.33" height="12.3" fill="#d5856d"/><rect x="139.14" y="329.2" width="2.33" height="12.3" fill="#aa4c4d"/><rect x="141.12" y="329.2" width="2.33" height="12.3" fill="#aa4c4d"/><rect x="145.08" y="329.2" width="2.33" height="12.3" fill="#d5856d"/><rect x="153" y="329.2" width="2.33" height="12.3" fill="#d5856d"/><rect x="174.78" y="329.2" width="2.33" height="12.3" fill="#d5856d"/><rect x="180.72" y="329.2" width="2.33" height="12.3" fill="#d5856d"/><rect x="188.64" y="329.2" width="2.33" height="12.3" fill="#8a2f3a"/><rect x="192.6" y="329.2" width="2.33" height="12.3" fill="#c76a58"/><rect x="194.58" y="329.2" width="2.33" height="12.3" fill="#d5856d"/><rect x="200.52" y="329.2" width="2.33" height="12.3" fill="#d5856d"/><rect x="224.28" y="329.2" width="2.33" height="12.3" fill="#d5856d"/><text x="267.3" y="337.5" font-size="6.3" fill="#231f20" textLength="77.8" lengthAdjust="spacingAndGlyphs">ST6GAL1 enhancer (intronic)</text><path d="M54.03 304.6V341.5 M56.01 304.6V341.5 M57.99 304.6V341.5 M59.97 304.6V341.5 M61.95 304.6V341.5 M63.93 304.6V341.5 M65.91 304.6V341.5 M67.89 304.6V341.5 M69.87 304.6V341.5 M71.85 304.6V341.5 M73.83 304.6V341.5 M75.81 304.6V341.5 M77.79 304.6V341.5 M79.77 304.6V341.5 M81.75 304.6V341.5 M83.73 304.6V341.5 M85.71 304.6V341.5 M87.69 304.6V341.5 M89.67 304.6V341.5 M91.65 304.6V341.5 M93.63 304.6V341.5 M95.61 304.6V341.5 M97.59 304.6V341.5 M99.57 304.6V341.5 M101.55 304.6V341.5 M103.53 304.6V341.5 M105.51 304.6V341.5 M107.49 304.6V341.5 M109.47 304.6V341.5 M111.45 304.6V341.5 M113.43 304.6V341.5 M115.41 304.6V341.5 M117.39 304.6V341.5 M119.37 304.6V341.5 M125.28 304.6V341.5 M127.26 304.6V341.5 M129.24 304.6V341.5 M131.22 304.6V341.5 M133.2 304.6V341.5 M135.18 304.6V341.5 M137.16 304.6V341.5 M139.14 304.6V341.5 M141.12 304.6V341.5 M143.1 304.6V341.5 M145.08 304.6V341.5 M147.06 304.6V341.5 M149.04 304.6V341.5 M151.02 304.6V341.5 M153 304.6V341.5 M154.98 304.6V341.5 M156.96 304.6V341.5 M158.94 304.6V341.5 M160.92 304.6V341.5 M162.9 304.6V341.5 M164.88 304.6V341.5 M166.86 304.6V341.5 M168.84 304.6V341.5 M170.82 304.6V341.5 M172.8 304.6V341.5 M174.78 304.6V341.5 M176.76 304.6V341.5 M178.74 304.6V341.5 M180.72 304.6V341.5 M182.7 304.6V341.5 M184.68 304.6V341.5 M186.66 304.6V341.5 M188.64 304.6V341.5 M190.62 304.6V341.5 M192.6 304.6V341.5 M194.58 304.6V341.5 M196.56 304.6V341.5 M198.54 304.6V341.5 M200.52 304.6V341.5 M202.5 304.6V341.5 M204.48 304.6V341.5 M206.46 304.6V341.5 M208.44 304.6V341.5 M210.42 304.6V341.5 M212.4 304.6V341.5 M214.38 304.6V341.5 M216.36 304.6V341.5 M218.34 304.6V341.5 M220.32 304.6V341.5 M222.3 304.6V341.5 M224.28 304.6V341.5 M226.26 304.6V341.5 M228.24 304.6V341.5 M230.22 304.6V341.5 M232.2 304.6V341.5 M234.18 304.6V341.5 M236.16 304.6V341.5 M238.14 304.6V341.5 M240.12 304.6V341.5 M242.1 304.6V341.5 M244.08 304.6V341.5 M246.06 304.6V341.5 M248.04 304.6V341.5 M250.02 304.6V341.5 M252 304.6V341.5 M253.98 304.6V341.5 M255.96 304.6V341.5 M257.94 304.6V341.5 M259.92 304.6V341.5 M261.9 304.6V341.5" stroke="#ffffff" stroke-opacity="0.32" stroke-width="0.6"/><rect x="52.05" y="316.55" width="69.3" height="0.7" fill="#ffffff" fill-opacity="0.3"/><rect x="123.3" y="316.55" width="140.58" height="0.7" fill="#ffffff" fill-opacity="0.3"/><rect x="52.05" y="328.85" width="69.3" height="0.7" fill="#ffffff" fill-opacity="0.3"/><rect x="123.3" y="328.85" width="140.58" height="0.7" fill="#ffffff" fill-opacity="0.3"/><text x="267" y="29.5" font-size="6.6" fill="#231f20" textLength="45.9" lengthAdjust="spacingAndGlyphs">Discordant cases</text><text x="267" y="38.5" font-size="6.6" fill="#231f20" textLength="39.9" lengthAdjust="spacingAndGlyphs">Clinical variant</text><text x="267" y="47.9" font-size="6.6" fill="#231f20" textLength="28.2" lengthAdjust="spacingAndGlyphs">EBV status</text><text x="7" y="59.7" font-size="6.6" fill="#231f20" textLength="24.6" lengthAdjust="spacingAndGlyphs">Mut./kbp</text><rect x="6.2" y="64.9" width="8.5" height="41.7" fill="url(#lg)"/><text x="18" y="71.9" font-size="6.4" fill="#231f20" textLength="14.8" lengthAdjust="spacingAndGlyphs">300.0</text><line x1="6.2" y1="69.8" x2="7.9" y2="69.8" stroke="#ffffff" stroke-width="0.5"/><line x1="13" y1="69.8" x2="14.7" y2="69.8" stroke="#ffffff" stroke-width="0.5"/><text x="18" y="82.1" font-size="6.4" fill="#231f20" textLength="11.4" lengthAdjust="spacingAndGlyphs">30.0</text><line x1="6.2" y1="80" x2="7.9" y2="80" stroke="#ffffff" stroke-width="0.5"/><line x1="13" y1="80" x2="14.7" y2="80" stroke="#ffffff" stroke-width="0.5"/><text x="18" y="91.9" font-size="6.4" fill="#231f20" textLength="8" lengthAdjust="spacingAndGlyphs">3.0</text><line x1="6.2" y1="89.8" x2="7.9" y2="89.8" stroke="#ffffff" stroke-width="0.5"/><line x1="13" y1="89.8" x2="14.7" y2="89.8" stroke="#ffffff" stroke-width="0.5"/><text x="18" y="101.9" font-size="6.4" fill="#231f20" textLength="8" lengthAdjust="spacingAndGlyphs">0.3</text><line x1="6.2" y1="99.8" x2="7.9" y2="99.8" stroke="#ffffff" stroke-width="0.5"/><line x1="13" y1="99.8" x2="14.7" y2="99.8" stroke="#ffffff" stroke-width="0.5"/><text x="7" y="182.5" font-size="6.6" fill="#231f20" textLength="24.6" lengthAdjust="spacingAndGlyphs">Mut./kbp</text><rect x="6.2" y="187.5" width="8.5" height="41.9" fill="url(#lg)"/><text x="18" y="193.8" font-size="6.4" fill="#231f20" textLength="11.4" lengthAdjust="spacingAndGlyphs">10.0</text><line x1="6.2" y1="191.7" x2="7.9" y2="191.7" stroke="#ffffff" stroke-width="0.5"/><line x1="13" y1="191.7" x2="14.7" y2="191.7" stroke="#ffffff" stroke-width="0.5"/><text x="18" y="203.2" font-size="6.4" fill="#231f20" textLength="8" lengthAdjust="spacingAndGlyphs">3.0</text><line x1="6.2" y1="201.1" x2="7.9" y2="201.1" stroke="#ffffff" stroke-width="0.5"/><line x1="13" y1="201.1" x2="14.7" y2="201.1" stroke="#ffffff" stroke-width="0.5"/><text x="18" y="212.3" font-size="6.4" fill="#231f20" textLength="8" lengthAdjust="spacingAndGlyphs">1.0</text><line x1="6.2" y1="210.2" x2="7.9" y2="210.2" stroke="#ffffff" stroke-width="0.5"/><line x1="13" y1="210.2" x2="14.7" y2="210.2" stroke="#ffffff" stroke-width="0.5"/><text x="18" y="221.5" font-size="6.4" fill="#231f20" textLength="8" lengthAdjust="spacingAndGlyphs">0.3</text><line x1="6.2" y1="219.4" x2="7.9" y2="219.4" stroke="#ffffff" stroke-width="0.5"/><line x1="13" y1="219.4" x2="14.7" y2="219.4" stroke="#ffffff" stroke-width="0.5"/><text x="7" y="295.3" font-size="6.6" fill="#231f20" textLength="24.6" lengthAdjust="spacingAndGlyphs">Mut./kbp</text><rect x="6.2" y="299.7" width="8.5" height="41.9" fill="url(#lg)"/><text x="18" y="309.7" font-size="6.4" fill="#231f20">3</text><line x1="6.2" y1="307.6" x2="7.9" y2="307.6" stroke="#ffffff" stroke-width="0.5"/><line x1="13" y1="307.6" x2="14.7" y2="307.6" stroke="#ffffff" stroke-width="0.5"/><text x="18" y="333.3" font-size="6.4" fill="#231f20">1</text><line x1="6.2" y1="331.2" x2="7.9" y2="331.2" stroke="#ffffff" stroke-width="0.5"/><line x1="13" y1="331.2" x2="14.7" y2="331.2" stroke="#ffffff" stroke-width="0.5"/><text x="8" y="16.5" font-size="12.4" fill="#231f20" textLength="7.2" lengthAdjust="spacingAndGlyphs" class="n">A</text><text x="367.8" y="47.6" font-size="5.4" fill="#231f20" textLength="26.5" lengthAdjust="spacingAndGlyphs">BL subtype</text><rect x="401.2" y="37.1" width="6.6" height="6.6" fill="#c9c7c7"/><text x="411.2" y="42.4" font-size="5.6" fill="#231f20" textLength="32.7" lengthAdjust="spacingAndGlyphs">EBV−negative</text><rect x="401.2" y="48.2" width="6.6" height="6.6" fill="#9d77a1"/><text x="411.2" y="52.9" font-size="5.6" fill="#231f20" textLength="30.7" lengthAdjust="spacingAndGlyphs">EBV−positive</text><rect x="450.3" y="37.1" width="6.5" height="6.6" fill="#78b0df"/><text x="460" y="42.4" font-size="5.6" fill="#231f20" textLength="25.2" lengthAdjust="spacingAndGlyphs">Endemic BL</text><rect x="450.3" y="48.2" width="6.5" height="6.6" fill="#4b4a46"/><text x="460" y="52.9" font-size="5.6" fill="#231f20" textLength="25.9" lengthAdjust="spacingAndGlyphs">Sporadic BL</text><rect x="358.3" y="58.9" width="141.7" height="41.9" fill="#f2f0f0"/><rect x="500.3" y="58.9" width="12.4" height="41.9" fill="#c8c5c5"/><text x="0" y="0" font-size="6.0" fill="#231f20" text-anchor="middle" textLength="17.0" lengthAdjust="spacingAndGlyphs" transform="translate(504.4,79.85) rotate(90)">IG loci</text><line x1="357.6" y1="58.9" x2="357.6" y2="100.8" stroke="#1e1e1e" stroke-width="1.1"/><rect x="358.3" y="106.2" width="141.7" height="192.4" fill="#f2f0f0"/><rect x="500.3" y="106.2" width="12.4" height="192.4" fill="#c8c5c5"/><text x="0" y="0" font-size="6.0" fill="#231f20" text-anchor="middle" textLength="37.5" lengthAdjust="spacingAndGlyphs" transform="translate(504.4,202.4) rotate(90)">TSS−proximal</text><line x1="357.6" y1="106.2" x2="357.6" y2="298.6" stroke="#1e1e1e" stroke-width="1.1"/><rect x="358.3" y="304.5" width="141.7" height="36.3" fill="#f2f0f0"/><rect x="500.3" y="304.5" width="12.4" height="36.3" fill="#c8c5c5"/><text x="0" y="0" font-size="6.0" fill="#231f20" text-anchor="middle" textLength="25.4" lengthAdjust="spacingAndGlyphs" transform="translate(504.4,322.65) rotate(90)">TSS−distal</text><line x1="357.6" y1="304.5" x2="357.6" y2="342.3" stroke="#1e1e1e" stroke-width="1.1"/><rect x="358.1" y="62.7" width="127.7" height="3.5" fill="#9d77a1"/><rect x="358.1" y="66.6" width="129.3" height="3.3" fill="#c4c0bf"/><line x1="354.7" y1="66.5" x2="357.6" y2="66.5" stroke="#1e1e1e" stroke-width="0.8"/><rect x="358.1" y="75.9" width="126.1" height="3.5" fill="#9d77a1"/><rect x="358.1" y="79.8" width="114.5" height="3.3" fill="#c4c0bf"/><line x1="354.7" y1="79.7" x2="357.6" y2="79.7" stroke="#1e1e1e" stroke-width="0.8"/><rect x="358.1" y="89.1" width="103.9" height="3.5" fill="#9d77a1"/><rect x="358.1" y="93" width="88.8" height="3.3" fill="#c4c0bf"/><line x1="354.7" y1="92.9" x2="357.6" y2="92.9" stroke="#1e1e1e" stroke-width="0.8"/><rect x="358.1" y="110.55" width="127.7" height="3.5" fill="#9d77a1"/><rect x="358.1" y="114.45" width="121.5" height="3.3" fill="#c4c0bf"/><line x1="354.7" y1="114.35" x2="357.6" y2="114.35" stroke="#1e1e1e" stroke-width="0.8"/><rect x="358.1" y="124.15" width="120" height="3.5" fill="#9d77a1"/><rect x="358.1" y="128.05" width="40" height="3.3" fill="#c4c0bf"/><line x1="354.7" y1="127.95" x2="357.6" y2="127.95" stroke="#1e1e1e" stroke-width="0.8"/><line x1="482.1" y1="124.55" x2="482.1" y2="131.25" stroke="#ffffff" stroke-width="2.4"/><line x1="482.1" y1="124.55" x2="482.1" y2="131.25" stroke="#2a2a2a" stroke-width="0.95"/><rect x="484.7" y="126.45" width="7.35" height="3" fill="#ffffff" fill-opacity="0.85"/><text x="485.3" y="130.95" font-size="5.3" fill="#231f20" textLength="6.15" lengthAdjust="spacingAndGlyphs">***</text><rect x="358.1" y="137.75" width="106.1" height="3.5" fill="#9d77a1"/><rect x="358.1" y="141.65" width="21.5" height="3.3" fill="#c4c0bf"/><line x1="354.7" y1="141.55" x2="357.6" y2="141.55" stroke="#1e1e1e" stroke-width="0.8"/><line x1="468.2" y1="138.15" x2="468.2" y2="144.85" stroke="#ffffff" stroke-width="2.4"/><line x1="468.2" y1="138.15" x2="468.2" y2="144.85" stroke="#2a2a2a" stroke-width="0.95"/><rect x="470.8" y="140.05" width="7.35" height="3" fill="#ffffff" fill-opacity="0.85"/><text x="471.4" y="144.55" font-size="5.3" fill="#231f20" textLength="6.15" lengthAdjust="spacingAndGlyphs">***</text><rect x="358.1" y="151.35" width="89.2" height="3.5" fill="#9d77a1"/><rect x="358.1" y="155.25" width="32.9" height="3.3" fill="#c4c0bf"/><line x1="354.7" y1="155.15" x2="357.6" y2="155.15" stroke="#1e1e1e" stroke-width="0.8"/><line x1="451.3" y1="151.75" x2="451.3" y2="158.45" stroke="#ffffff" stroke-width="2.4"/><line x1="451.3" y1="151.75" x2="451.3" y2="158.45" stroke="#2a2a2a" stroke-width="0.95"/><rect x="453.9" y="153.65" width="5.3" height="3" fill="#ffffff" fill-opacity="0.85"/><text x="454.5" y="158.15" font-size="5.3" fill="#231f20" textLength="4.1" lengthAdjust="spacingAndGlyphs">**</text><rect x="358.1" y="164.95" width="96.9" height="3.5" fill="#9d77a1"/><rect x="358.1" y="168.85" width="14.4" height="3.3" fill="#c4c0bf"/><line x1="354.7" y1="168.75" x2="357.6" y2="168.75" stroke="#1e1e1e" stroke-width="0.8"/><line x1="459" y1="165.35" x2="459" y2="172.05" stroke="#ffffff" stroke-width="2.4"/><line x1="459" y1="165.35" x2="459" y2="172.05" stroke="#2a2a2a" stroke-width="0.95"/><rect x="461.6" y="167.25" width="7.35" height="3" fill="#ffffff" fill-opacity="0.85"/><text x="462.2" y="171.75" font-size="5.3" fill="#231f20" textLength="6.15" lengthAdjust="spacingAndGlyphs">***</text><rect x="358.1" y="178.55" width="78.4" height="3.5" fill="#9d77a1"/><rect x="358.1" y="182.45" width="14.4" height="3.3" fill="#c4c0bf"/><line x1="354.7" y1="182.35" x2="357.6" y2="182.35" stroke="#1e1e1e" stroke-width="0.8"/><line x1="440.5" y1="178.95" x2="440.5" y2="185.65" stroke="#ffffff" stroke-width="2.4"/><line x1="440.5" y1="178.95" x2="440.5" y2="185.65" stroke="#2a2a2a" stroke-width="0.95"/><rect x="443.1" y="180.85" width="7.35" height="3" fill="#ffffff" fill-opacity="0.85"/><text x="443.7" y="185.35" font-size="5.3" fill="#231f20" textLength="6.15" lengthAdjust="spacingAndGlyphs">***</text><rect x="358.1" y="192.15" width="59.9" height="3.5" fill="#9d77a1"/><rect x="358.1" y="196.05" width="25.5" height="3.3" fill="#c4c0bf"/><line x1="354.7" y1="195.95" x2="357.6" y2="195.95" stroke="#1e1e1e" stroke-width="0.8"/><line x1="422" y1="192.55" x2="422" y2="199.25" stroke="#ffffff" stroke-width="2.4"/><line x1="422" y1="192.55" x2="422" y2="199.25" stroke="#2a2a2a" stroke-width="0.95"/><rect x="424.6" y="194.45" width="3.25" height="3" fill="#ffffff" fill-opacity="0.85"/><text x="425.2" y="198.95" font-size="5.3" fill="#231f20" textLength="2.05" lengthAdjust="spacingAndGlyphs">*</text><rect x="358.1" y="205.75" width="45.5" height="3.5" fill="#9d77a1"/><rect x="358.1" y="209.65" width="14.4" height="3.3" fill="#c4c0bf"/><line x1="354.7" y1="209.55" x2="357.6" y2="209.55" stroke="#1e1e1e" stroke-width="0.8"/><line x1="407.6" y1="206.15" x2="407.6" y2="212.85" stroke="#ffffff" stroke-width="2.4"/><line x1="407.6" y1="206.15" x2="407.6" y2="212.85" stroke="#2a2a2a" stroke-width="0.95"/><rect x="410.2" y="208.05" width="3.25" height="3" fill="#ffffff" fill-opacity="0.85"/><text x="410.8" y="212.55" font-size="5.3" fill="#231f20" textLength="2.05" lengthAdjust="spacingAndGlyphs">*</text><rect x="358.1" y="219.35" width="41.9" height="3.5" fill="#9d77a1"/><rect x="358.1" y="223.25" width="7.1" height="3.3" fill="#c4c0bf"/><line x1="354.7" y1="223.15" x2="357.6" y2="223.15" stroke="#1e1e1e" stroke-width="0.8"/><line x1="404" y1="219.75" x2="404" y2="226.45" stroke="#ffffff" stroke-width="2.4"/><line x1="404" y1="219.75" x2="404" y2="226.45" stroke="#2a2a2a" stroke-width="0.95"/><rect x="406.6" y="221.65" width="3.25" height="3" fill="#ffffff" fill-opacity="0.85"/><text x="407.2" y="226.15" font-size="5.3" fill="#231f20" textLength="2.05" lengthAdjust="spacingAndGlyphs">*</text><rect x="358.1" y="232.95" width="43.7" height="3.5" fill="#9d77a1"/><rect x="358.1" y="236.85" width="3.7" height="3.3" fill="#c4c0bf"/><line x1="354.7" y1="236.75" x2="357.6" y2="236.75" stroke="#1e1e1e" stroke-width="0.8"/><line x1="405.8" y1="233.35" x2="405.8" y2="240.05" stroke="#ffffff" stroke-width="2.4"/><line x1="405.8" y1="233.35" x2="405.8" y2="240.05" stroke="#2a2a2a" stroke-width="0.95"/><rect x="408.4" y="235.25" width="5.3" height="3" fill="#ffffff" fill-opacity="0.85"/><text x="409" y="239.75" font-size="5.3" fill="#231f20" textLength="4.1" lengthAdjust="spacingAndGlyphs">**</text><rect x="358.1" y="246.55" width="34.4" height="3.5" fill="#9d77a1"/><rect x="358.1" y="250.45" width="14.4" height="3.3" fill="#c4c0bf"/><line x1="354.7" y1="250.35" x2="357.6" y2="250.35" stroke="#1e1e1e" stroke-width="0.8"/><rect x="358.1" y="260.15" width="36.3" height="3.5" fill="#9d77a1"/><rect x="358.1" y="264.05" width="7.1" height="3.3" fill="#c4c0bf"/><line x1="354.7" y1="263.95" x2="357.6" y2="263.95" stroke="#1e1e1e" stroke-width="0.8"/><line x1="398.4" y1="260.55" x2="398.4" y2="267.25" stroke="#ffffff" stroke-width="2.4"/><line x1="398.4" y1="260.55" x2="398.4" y2="267.25" stroke="#2a2a2a" stroke-width="0.95"/><rect x="401" y="262.45" width="3.25" height="3" fill="#ffffff" fill-opacity="0.85"/><text x="401.6" y="266.95" font-size="5.3" fill="#231f20" textLength="2.05" lengthAdjust="spacingAndGlyphs">*</text><rect x="358.1" y="273.75" width="34.4" height="3.5" fill="#9d77a1"/><line x1="354.7" y1="277.55" x2="357.6" y2="277.55" stroke="#1e1e1e" stroke-width="0.8"/><line x1="396.5" y1="274.15" x2="396.5" y2="280.85" stroke="#ffffff" stroke-width="2.4"/><line x1="396.5" y1="274.15" x2="396.5" y2="280.85" stroke="#2a2a2a" stroke-width="0.95"/><rect x="399.1" y="276.05" width="5.3" height="3" fill="#ffffff" fill-opacity="0.85"/><text x="399.7" y="280.55" font-size="5.3" fill="#231f20" textLength="4.1" lengthAdjust="spacingAndGlyphs">**</text><rect x="358.1" y="287.35" width="28.6" height="3.5" fill="#9d77a1"/><rect x="358.1" y="291.25" width="7.2" height="3.3" fill="#c4c0bf"/><line x1="354.7" y1="291.15" x2="357.6" y2="291.15" stroke="#1e1e1e" stroke-width="0.8"/><line x1="390.7" y1="287.75" x2="390.7" y2="294.45" stroke="#ffffff" stroke-width="2.4"/><line x1="390.7" y1="287.75" x2="390.7" y2="294.45" stroke="#2a2a2a" stroke-width="0.95"/><rect x="393.3" y="289.65" width="3.25" height="3" fill="#ffffff" fill-opacity="0.85"/><text x="393.9" y="294.15" font-size="5.3" fill="#231f20" textLength="2.05" lengthAdjust="spacingAndGlyphs">*</text><rect x="358.1" y="307.5" width="47.1" height="3.5" fill="#9d77a1"/><rect x="358.1" y="311.4" width="14.6" height="3.3" fill="#c4c0bf"/><line x1="354.7" y1="311.3" x2="357.6" y2="311.3" stroke="#1e1e1e" stroke-width="0.8"/><line x1="409.2" y1="307.9" x2="409.2" y2="314.6" stroke="#ffffff" stroke-width="2.4"/><line x1="409.2" y1="307.9" x2="409.2" y2="314.6" stroke="#2a2a2a" stroke-width="0.95"/><rect x="411.8" y="309.8" width="3.25" height="3" fill="#ffffff" fill-opacity="0.85"/><text x="412.4" y="314.3" font-size="5.3" fill="#231f20" textLength="2.05" lengthAdjust="spacingAndGlyphs">*</text><rect x="358.1" y="319.2" width="30.9" height="3.5" fill="#9d77a1"/><rect x="358.1" y="323.1" width="10.7" height="3.3" fill="#c4c0bf"/><line x1="354.7" y1="323" x2="357.6" y2="323" stroke="#1e1e1e" stroke-width="0.8"/><line x1="393" y1="319.6" x2="393" y2="326.3" stroke="#ffffff" stroke-width="2.4"/><line x1="393" y1="319.6" x2="393" y2="326.3" stroke="#2a2a2a" stroke-width="0.95"/><rect x="395.6" y="321.5" width="3.25" height="3" fill="#ffffff" fill-opacity="0.85"/><text x="396.2" y="326" font-size="5.3" fill="#231f20" textLength="2.05" lengthAdjust="spacingAndGlyphs">*</text><rect x="358.1" y="330.9" width="21.7" height="3.5" fill="#9d77a1"/><rect x="358.1" y="334.8" width="10.7" height="3.3" fill="#c4c0bf"/><line x1="354.7" y1="334.7" x2="357.6" y2="334.7" stroke="#1e1e1e" stroke-width="0.8"/><line x1="357.1" y1="342" x2="500" y2="342" stroke="#1e1e1e" stroke-width="1.1"/><line x1="357.7" y1="342" x2="357.7" y2="344.4" stroke="#1e1e1e" stroke-width="0.8"/><text x="357.7" y="353.6" font-size="6.4" fill="#231f20" text-anchor="middle">0</text><line x1="390.1" y1="342" x2="390.1" y2="344.4" stroke="#1e1e1e" stroke-width="0.8"/><text x="390.1" y="353.6" font-size="6.4" fill="#231f20" text-anchor="middle">25</text><line x1="422.5" y1="342" x2="422.5" y2="344.4" stroke="#1e1e1e" stroke-width="0.8"/><text x="422.5" y="353.6" font-size="6.4" fill="#231f20" text-anchor="middle">50</text><line x1="454.9" y1="342" x2="454.9" y2="344.4" stroke="#1e1e1e" stroke-width="0.8"/><text x="454.9" y="353.6" font-size="6.4" fill="#231f20" text-anchor="middle">75</text><line x1="487.3" y1="342" x2="487.3" y2="344.4" stroke="#1e1e1e" stroke-width="0.8"/><text x="487.3" y="353.6" font-size="6.4" fill="#231f20" text-anchor="middle">100</text><text x="384.6" y="365.5" font-size="8.2" fill="#231f20" textLength="88.7" lengthAdjust="spacingAndGlyphs">Mutation prevalence (%)</text><text x="7.4" y="381.3" font-size="12.4" fill="#231f20" textLength="6.6" lengthAdjust="spacingAndGlyphs" class="n">B</text><rect x="32.7" y="381.2" width="99.9" height="12" fill="#c8c5c5"/><rect x="32.7" y="393.9" width="99.9" height="115.6" fill="#f2f0f0"/><text x="62.8" y="389" font-size="7.0" fill="#231f20" textLength="39.5" lengthAdjust="spacingAndGlyphs">Clinical variant</text><line x1="32.7" y1="509.8" x2="132.6" y2="509.8" stroke="#2a2a2a" stroke-width="1.1"/><rect x="136.1" y="381.2" width="99.9" height="12" fill="#c8c5c5"/><rect x="136.1" y="393.9" width="99.9" height="115.6" fill="#f2f0f0"/><text x="172" y="389" font-size="7.0" fill="#231f20" textLength="28.2" lengthAdjust="spacingAndGlyphs">EBV status</text><line x1="136.1" y1="509.8" x2="236" y2="509.8" stroke="#2a2a2a" stroke-width="1.1"/><line x1="33.2" y1="396.8" x2="33.2" y2="510.3" stroke="#2a2a2a" stroke-width="1.1"/><line x1="29.2" y1="399.8" x2="33.2" y2="399.8" stroke="#2a2a2a" stroke-width="0.8"/><text x="26.4" y="402" font-size="6.3" fill="#231f20" text-anchor="end">14</text><line x1="29.2" y1="432.7" x2="33.2" y2="432.7" stroke="#2a2a2a" stroke-width="0.8"/><text x="26.4" y="434.9" font-size="6.3" fill="#231f20" text-anchor="end">12</text><line x1="29.2" y1="465.6" x2="33.2" y2="465.6" stroke="#2a2a2a" stroke-width="0.8"/><text x="26.4" y="467.8" font-size="6.3" fill="#231f20" text-anchor="end">10</text><line x1="29.2" y1="498.5" x2="33.2" y2="498.5" stroke="#2a2a2a" stroke-width="0.8"/><text x="26.4" y="500.7" font-size="6.3" fill="#231f20" text-anchor="end">8</text><text x="0" y="0" font-size="8.8" fill="#231f20" text-anchor="middle" textLength="64.2" lengthAdjust="spacingAndGlyphs" transform="translate(14.3,452.8) rotate(-90)">AICDA expression</text><line x1="60" y1="422.5" x2="60" y2="500.8" stroke="#2f2f2f" stroke-width="0.9"/><rect x="43" y="452" width="33.8" height="21.3" fill="#4b4a46"/><line x1="43" y1="461.8" x2="76.8" y2="461.8" stroke="#1f1f1f" stroke-width="1.3"/><circle cx="60" cy="422.5" r="1.5" fill="#cf3b22" stroke="#3f1710" stroke-width="0.7"/><circle cx="60" cy="434.3" r="1.5" fill="#cf3b22" stroke="#3f1710" stroke-width="0.7"/><circle cx="60" cy="444.3" r="1.5" fill="#cf3b22" stroke="#3f1710" stroke-width="0.7"/><circle cx="60" cy="460" r="1.5" fill="#cf3b22" stroke="#3f1710" stroke-width="0.7"/><line x1="105.3" y1="415.5" x2="105.3" y2="472" stroke="#2f2f2f" stroke-width="0.9"/><rect x="88" y="425.8" width="34.5" height="16.2" fill="#78b0df"/><line x1="88" y1="433.8" x2="122.5" y2="433.8" stroke="#1f1f1f" stroke-width="1.3"/><circle cx="105.3" cy="416.3" r="1.5" fill="#cf3b22" stroke="#3f1710" stroke-width="0.7"/><circle cx="105.3" cy="440" r="1.5" fill="#cf3b22" stroke="#3f1710" stroke-width="0.7"/><circle cx="105.3" cy="453.3" r="1.5" fill="#cf3b22" stroke="#3f1710" stroke-width="0.7"/><circle cx="105.3" cy="459.5" r="1.5" fill="#cf3b22" stroke="#3f1710" stroke-width="0.7"/><circle cx="105.3" cy="461.3" r="1.5" fill="#cf3b22" stroke="#3f1710" stroke-width="0.7"/><circle cx="105.3" cy="465.5" r="1.5" fill="#cf3b22" stroke="#3f1710" stroke-width="0.7"/><circle cx="105.3" cy="472" r="1.5" fill="#cf3b22" stroke="#3f1710" stroke-width="0.7"/><line x1="163.7" y1="430.5" x2="163.7" y2="500.5" stroke="#2f2f2f" stroke-width="0.9"/><rect x="147" y="453" width="33.8" height="20" fill="#c9c7c7"/><line x1="147" y1="463.3" x2="180.8" y2="463.3" stroke="#1f1f1f" stroke-width="1.3"/><circle cx="163.7" cy="416.3" r="1.5" fill="#cf3b22" stroke="#3f1710" stroke-width="0.7"/><circle cx="163.7" cy="440" r="1.5" fill="#cf3b22" stroke="#3f1710" stroke-width="0.7"/><circle cx="163.7" cy="453.3" r="1.5" fill="#cf3b22" stroke="#3f1710" stroke-width="0.7"/><circle cx="163.7" cy="459.5" r="1.5" fill="#cf3b22" stroke="#3f1710" stroke-width="0.7"/><circle cx="163.7" cy="462" r="1.5" fill="#cf3b22" stroke="#3f1710" stroke-width="0.7"/><circle cx="163.7" cy="465.7" r="1.5" fill="#cf3b22" stroke="#3f1710" stroke-width="0.7"/><circle cx="163.7" cy="472" r="1.5" fill="#cf3b22" stroke="#3f1710" stroke-width="0.7"/><line x1="208.7" y1="413" x2="208.7" y2="459.5" stroke="#2f2f2f" stroke-width="0.9"/><rect x="192" y="425.5" width="34.3" height="16" fill="#9d77a1"/><line x1="192" y1="433.8" x2="226.3" y2="433.8" stroke="#1f1f1f" stroke-width="1.3"/><circle cx="208.7" cy="423" r="1.5" fill="#cf3b22" stroke="#3f1710" stroke-width="0.7"/><circle cx="208.7" cy="434.3" r="1.5" fill="#cf3b22" stroke="#3f1710" stroke-width="0.7"/><circle cx="208.7" cy="444.3" r="1.5" fill="#cf3b22" stroke="#3f1710" stroke-width="0.7"/><circle cx="208.7" cy="459.5" r="1.5" fill="#cf3b22" stroke="#3f1710" stroke-width="0.7"/><line x1="60" y1="408.3" x2="105.3" y2="408.3" stroke="#2f2f2f" stroke-width="0.8"/><text x="79.4" y="408.2" font-size="5.6" fill="#231f20" textLength="6.8" lengthAdjust="spacingAndGlyphs">***</text><line x1="163.7" y1="408.8" x2="208.7" y2="408.8" stroke="#2f2f2f" stroke-width="0.8"/><text x="182.9" y="407.7" font-size="5.6" fill="#231f20" textLength="6.8" lengthAdjust="spacingAndGlyphs">***</text><line x1="59.8" y1="509.8" x2="59.8" y2="512.8" stroke="#2a2a2a" stroke-width="0.8"/><text x="43.7" y="521.3" font-size="6.8" fill="#231f20" textLength="32.6" lengthAdjust="spacingAndGlyphs">Sporadic BL</text><line x1="105.2" y1="509.8" x2="105.2" y2="512.8" stroke="#2a2a2a" stroke-width="0.8"/><text x="89.2" y="521.3" font-size="6.8" fill="#231f20" textLength="32" lengthAdjust="spacingAndGlyphs">Endemic BL</text><line x1="163.5" y1="509.8" x2="163.5" y2="512.8" stroke="#2a2a2a" stroke-width="0.8"/><text x="144.6" y="521.3" font-size="6.8" fill="#231f20" textLength="38.1" lengthAdjust="spacingAndGlyphs">EBV−negative</text><line x1="208.7" y1="509.8" x2="208.7" y2="512.8" stroke="#2a2a2a" stroke-width="0.8"/><text x="190.8" y="521.3" font-size="6.8" fill="#231f20" textLength="36.5" lengthAdjust="spacingAndGlyphs">EBV−positive</text><text x="252.8" y="381.3" font-size="12.4" fill="#231f20" textLength="7.2" lengthAdjust="spacingAndGlyphs" class="n">C</text><text x="308" y="394.6" font-size="8.2" fill="#231f20" textLength="138.5" lengthAdjust="spacingAndGlyphs">Linear regression of AICDA expression</text><rect x="251" y="400.1" width="253.6" height="21.3" fill="#c9c6c6"/><rect x="251" y="421.4" width="253.6" height="21.6" fill="#f2f1f1"/><rect x="251" y="443" width="253.6" height="21.7" fill="#e6e4e4"/><rect x="252" y="401.1" width="68.6" height="19.3" fill="none" stroke="#ffffff" stroke-width="0.7"/><rect x="252" y="422.4" width="68.6" height="19.6" fill="none" stroke="#ffffff" stroke-width="0.7"/><rect x="252" y="444" width="68.6" height="19.7" fill="none" stroke="#ffffff" stroke-width="0.7"/><rect x="322.6" y="401.1" width="41.1" height="19.3" fill="none" stroke="#ffffff" stroke-width="0.7"/><rect x="322.6" y="422.4" width="41.1" height="19.6" fill="none" stroke="#ffffff" stroke-width="0.7"/><rect x="322.6" y="444" width="41.1" height="19.7" fill="none" stroke="#ffffff" stroke-width="0.7"/><rect x="365.7" y="401.1" width="34.3" height="19.3" fill="none" stroke="#ffffff" stroke-width="0.7"/><rect x="365.7" y="422.4" width="34.3" height="19.6" fill="none" stroke="#ffffff" stroke-width="0.7"/><rect x="365.7" y="444" width="34.3" height="19.7" fill="none" stroke="#ffffff" stroke-width="0.7"/><rect x="402" y="401.1" width="62.6" height="19.3" fill="none" stroke="#ffffff" stroke-width="0.7"/><rect x="402" y="422.4" width="62.6" height="19.6" fill="none" stroke="#ffffff" stroke-width="0.7"/><rect x="402" y="444" width="62.6" height="19.7" fill="none" stroke="#ffffff" stroke-width="0.7"/><rect x="466.6" y="401.1" width="37" height="19.3" fill="none" stroke="#ffffff" stroke-width="0.7"/><rect x="466.6" y="422.4" width="37" height="19.6" fill="none" stroke="#ffffff" stroke-width="0.7"/><rect x="466.6" y="444" width="37" height="19.7" fill="none" stroke="#ffffff" stroke-width="0.7"/><line x1="251" y1="399.5" x2="251" y2="465.3" stroke="#2e2e2e" stroke-width="1.2"/><line x1="321.6" y1="399.5" x2="321.6" y2="465.3" stroke="#2e2e2e" stroke-width="1.2"/><line x1="364.7" y1="399.5" x2="364.7" y2="465.3" stroke="#2e2e2e" stroke-width="1.2"/><line x1="401" y1="399.5" x2="401" y2="465.3" stroke="#2e2e2e" stroke-width="1.2"/><line x1="465.6" y1="399.5" x2="465.6" y2="465.3" stroke="#2e2e2e" stroke-width="1.2"/><line x1="504.6" y1="399.5" x2="504.6" y2="465.3" stroke="#2e2e2e" stroke-width="1.2"/><line x1="251" y1="400.1" x2="504.6" y2="400.1" stroke="#2e2e2e" stroke-width="1.2"/><line x1="251" y1="421.4" x2="504.6" y2="421.4" stroke="#2e2e2e" stroke-width="1.2"/><line x1="251" y1="443" x2="504.6" y2="443" stroke="#2e2e2e" stroke-width="1.2"/><line x1="251" y1="464.7" x2="504.6" y2="464.7" stroke="#2e2e2e" stroke-width="1.2"/><text x="280" y="412.3" font-size="6.7" fill="#231f20" textLength="13.4" lengthAdjust="spacingAndGlyphs" class="n">Term</text><text x="328.5" y="412.3" font-size="6.7" fill="#231f20" textLength="29.3" lengthAdjust="spacingAndGlyphs" class="n">Coefficient</text><text x="369.7" y="408.9" font-size="6.7" fill="#231f20" textLength="25.4" lengthAdjust="spacingAndGlyphs" class="n">Standard</text><text x="377.3" y="416.5" font-size="6.7" fill="#231f20" textLength="11.6" lengthAdjust="spacingAndGlyphs" class="n">error</text><text x="409.7" y="408.9" font-size="6.7" fill="#231f20" textLength="46.8" lengthAdjust="spacingAndGlyphs" class="n">Bootstrap 95% CI</text><text x="417.7" y="416.5" font-size="6.7" fill="#231f20" textLength="31.2" lengthAdjust="spacingAndGlyphs">(N = 10000)</text><text x="483.1" y="412.3" font-size="6.7" fill="#231f20" textLength="3.2" lengthAdjust="spacingAndGlyphs" class="n">P</text><text x="272.6" y="430.3" font-size="6.7" fill="#231f20" textLength="28.2" lengthAdjust="spacingAndGlyphs" class="n">EBV status</text><text x="260.4" y="438.4" font-size="6.7" fill="#231f20" textLength="53.1" lengthAdjust="spacingAndGlyphs">(Ref: EBV−negative)</text><text x="337.8" y="434.5" font-size="6.7" fill="#231f20" textLength="11.5" lengthAdjust="spacingAndGlyphs" class="n">1.30</text><text x="377.3" y="433.8" font-size="6.7" fill="#231f20" textLength="10.9" lengthAdjust="spacingAndGlyphs" class="n">0.27</text><text x="418.9" y="433.8" font-size="6.7" fill="#231f20" textLength="28.4" lengthAdjust="spacingAndGlyphs" class="n">0.43 to 1.8</text><text x="470.9" y="434.5" font-size="6.7" fill="#231f20" textLength="21.5" lengthAdjust="spacingAndGlyphs" class="n">6.4 × 10</text><text x="492.6" y="430.6" font-size="4.4" fill="#231f20" textLength="6.3" lengthAdjust="spacingAndGlyphs" class="n">−6</text><text x="266.6" y="451.8" font-size="6.7" fill="#231f20" textLength="40" lengthAdjust="spacingAndGlyphs" class="n">Clinical variant</text><text x="267.3" y="459.9" font-size="6.7" fill="#231f20" textLength="39.3" lengthAdjust="spacingAndGlyphs">(Ref: Sporadic)</text><text x="337.3" y="455.7" font-size="6.7" fill="#231f20" textLength="12" lengthAdjust="spacingAndGlyphs" class="n">0.66</text><text x="377.3" y="455.3" font-size="6.7" fill="#231f20" textLength="10.9" lengthAdjust="spacingAndGlyphs" class="n">0.29</text><text x="417.3" y="455.3" font-size="6.7" fill="#231f20" textLength="31.6" lengthAdjust="spacingAndGlyphs" class="n">0.052 to 1.5</text><text x="479.2" y="456" font-size="6.7" fill="#231f20" textLength="11.6" lengthAdjust="spacingAndGlyphs" class="n">.023</text>
<rect x="0" y="0" width="520" height="1.7" fill="#4a4a4a"/>
<rect x="0" y="0" width="1.15" height="531" fill="#111"/>
<rect x="518.8" y="0" width="1.2" height="531" fill="#111"/>
<rect x="0" y="529.8" width="520" height="1.2" fill="#111"/>
</svg>
</body></html>
